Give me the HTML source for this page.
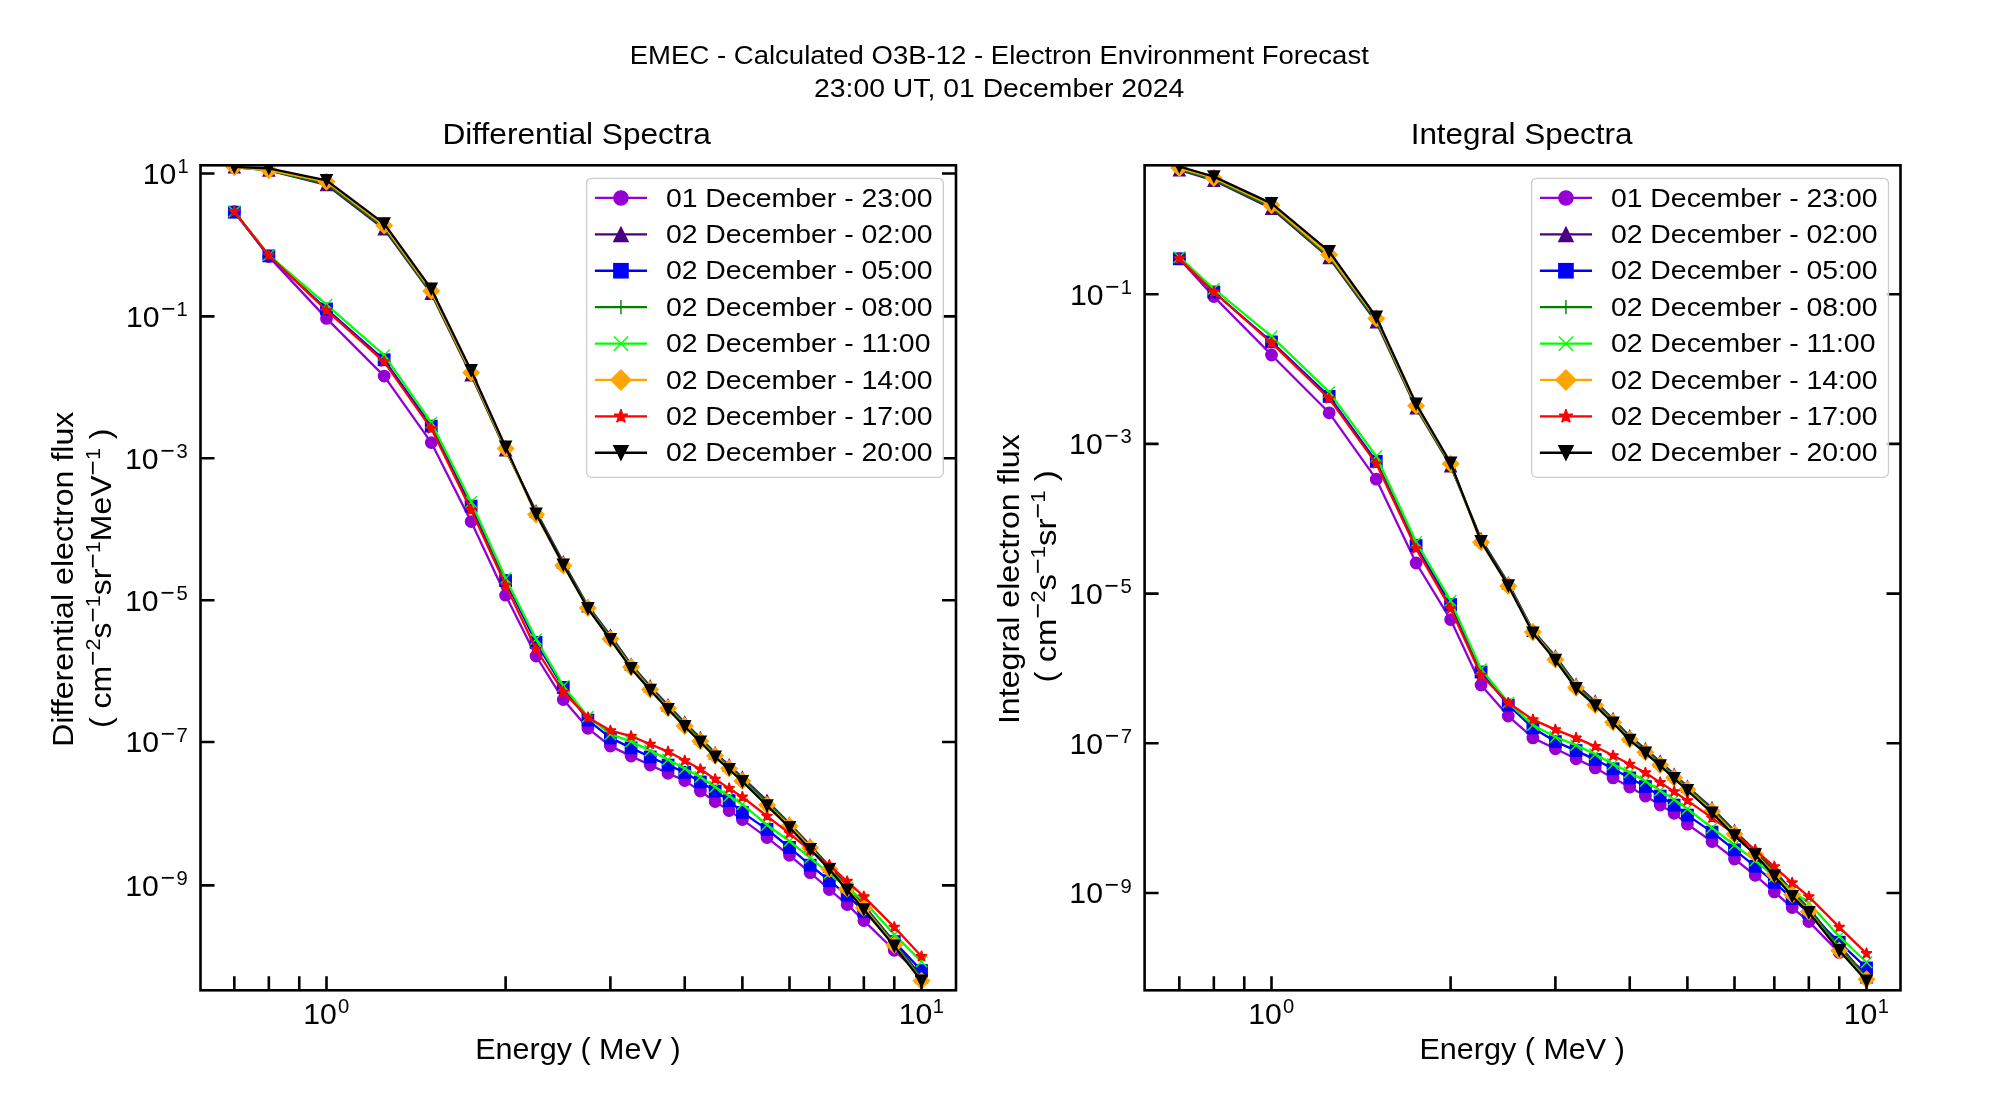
<!DOCTYPE html><html><head><meta charset="utf-8"><style>html,body{margin:0;padding:0;background:#fff;}svg{display:block;will-change:transform;}text{font-family:"Liberation Sans",sans-serif;fill:#000;}</style></head><body>
<svg width="2000" height="1100" viewBox="0 0 2000 1100">
<rect width="2000" height="1100" fill="#fff"/>
<text transform="translate(629.74 64.40) scale(1.0432 1)" font-size="26.40"  xml:space="preserve">EMEC - Calculated O3B-12 - Electron Environment Forecast</text>
<text transform="translate(814.07 97.00) scale(1.0743 1)" font-size="26.40"  xml:space="preserve">23:00 UT, 01 December 2024</text>
<defs><clipPath id="clip0"><rect x="200.5" y="165.3" width="755.5" height="825.0"/></clipPath></defs>
<g clip-path="url(#clip0)">
<path d="M234.33 211.60L268.84 256.60L326.50 318.40L384.16 376.10L431.27 442.60L471.11 521.60L505.61 595.20L536.05 656.00L563.27 699.60L587.90 728.30L610.39 746.10L631.07 756.10L650.22 765.10L668.05 773.30L684.73 780.60L700.39 791.10L715.16 801.60L729.13 810.60L742.39 819.60L767.02 837.60L789.50 855.30L810.18 872.70L829.33 889.50L847.16 904.50L863.84 920.60L894.27 950.30L921.50 975.60" fill="none" stroke="#9400d3" stroke-width="2.3" stroke-linejoin="round" stroke-linecap="square"/>
<circle cx="234.33" cy="211.60" r="5.70" fill="#9400d3" stroke="#9400d3" stroke-width="1.39"/>
<circle cx="268.84" cy="256.60" r="5.70" fill="#9400d3" stroke="#9400d3" stroke-width="1.39"/>
<circle cx="326.50" cy="318.40" r="5.70" fill="#9400d3" stroke="#9400d3" stroke-width="1.39"/>
<circle cx="384.16" cy="376.10" r="5.70" fill="#9400d3" stroke="#9400d3" stroke-width="1.39"/>
<circle cx="431.27" cy="442.60" r="5.70" fill="#9400d3" stroke="#9400d3" stroke-width="1.39"/>
<circle cx="471.11" cy="521.60" r="5.70" fill="#9400d3" stroke="#9400d3" stroke-width="1.39"/>
<circle cx="505.61" cy="595.20" r="5.70" fill="#9400d3" stroke="#9400d3" stroke-width="1.39"/>
<circle cx="536.05" cy="656.00" r="5.70" fill="#9400d3" stroke="#9400d3" stroke-width="1.39"/>
<circle cx="563.27" cy="699.60" r="5.70" fill="#9400d3" stroke="#9400d3" stroke-width="1.39"/>
<circle cx="587.90" cy="728.30" r="5.70" fill="#9400d3" stroke="#9400d3" stroke-width="1.39"/>
<circle cx="610.39" cy="746.10" r="5.70" fill="#9400d3" stroke="#9400d3" stroke-width="1.39"/>
<circle cx="631.07" cy="756.10" r="5.70" fill="#9400d3" stroke="#9400d3" stroke-width="1.39"/>
<circle cx="650.22" cy="765.10" r="5.70" fill="#9400d3" stroke="#9400d3" stroke-width="1.39"/>
<circle cx="668.05" cy="773.30" r="5.70" fill="#9400d3" stroke="#9400d3" stroke-width="1.39"/>
<circle cx="684.73" cy="780.60" r="5.70" fill="#9400d3" stroke="#9400d3" stroke-width="1.39"/>
<circle cx="700.39" cy="791.10" r="5.70" fill="#9400d3" stroke="#9400d3" stroke-width="1.39"/>
<circle cx="715.16" cy="801.60" r="5.70" fill="#9400d3" stroke="#9400d3" stroke-width="1.39"/>
<circle cx="729.13" cy="810.60" r="5.70" fill="#9400d3" stroke="#9400d3" stroke-width="1.39"/>
<circle cx="742.39" cy="819.60" r="5.70" fill="#9400d3" stroke="#9400d3" stroke-width="1.39"/>
<circle cx="767.02" cy="837.60" r="5.70" fill="#9400d3" stroke="#9400d3" stroke-width="1.39"/>
<circle cx="789.50" cy="855.30" r="5.70" fill="#9400d3" stroke="#9400d3" stroke-width="1.39"/>
<circle cx="810.18" cy="872.70" r="5.70" fill="#9400d3" stroke="#9400d3" stroke-width="1.39"/>
<circle cx="829.33" cy="889.50" r="5.70" fill="#9400d3" stroke="#9400d3" stroke-width="1.39"/>
<circle cx="847.16" cy="904.50" r="5.70" fill="#9400d3" stroke="#9400d3" stroke-width="1.39"/>
<circle cx="863.84" cy="920.60" r="5.70" fill="#9400d3" stroke="#9400d3" stroke-width="1.39"/>
<circle cx="894.27" cy="950.30" r="5.70" fill="#9400d3" stroke="#9400d3" stroke-width="1.39"/>
<circle cx="921.50" cy="975.60" r="5.70" fill="#9400d3" stroke="#9400d3" stroke-width="1.39"/>
<path d="M234.33 167.20L268.84 170.30L326.50 184.80L384.16 229.00L431.27 293.50L471.11 375.00L505.61 450.00L536.05 511.30L563.27 562.30L587.90 606.00L610.39 635.50L631.07 664.40L650.22 686.20L668.05 705.30L684.73 722.50L700.39 738.00L715.16 753.00L729.13 765.30L742.39 777.50L767.02 800.70L789.50 823.50L810.18 845.30L829.33 866.30L847.16 886.10L863.84 905.60L894.27 942.00L921.50 977.00" fill="none" stroke="#4b0082" stroke-width="2.3" stroke-linejoin="round" stroke-linecap="square"/>
<path d="M234.33 161.50L228.63 172.90L240.03 172.90Z" fill="#4b0082" stroke="#4b0082" stroke-width="1.39" stroke-linejoin="miter"/>
<path d="M268.84 164.60L263.14 176.00L274.54 176.00Z" fill="#4b0082" stroke="#4b0082" stroke-width="1.39" stroke-linejoin="miter"/>
<path d="M326.50 179.10L320.80 190.50L332.20 190.50Z" fill="#4b0082" stroke="#4b0082" stroke-width="1.39" stroke-linejoin="miter"/>
<path d="M384.16 223.30L378.46 234.70L389.86 234.70Z" fill="#4b0082" stroke="#4b0082" stroke-width="1.39" stroke-linejoin="miter"/>
<path d="M431.27 287.80L425.57 299.20L436.97 299.20Z" fill="#4b0082" stroke="#4b0082" stroke-width="1.39" stroke-linejoin="miter"/>
<path d="M471.11 369.30L465.41 380.70L476.81 380.70Z" fill="#4b0082" stroke="#4b0082" stroke-width="1.39" stroke-linejoin="miter"/>
<path d="M505.61 444.30L499.91 455.70L511.31 455.70Z" fill="#4b0082" stroke="#4b0082" stroke-width="1.39" stroke-linejoin="miter"/>
<path d="M536.05 505.60L530.35 517.00L541.75 517.00Z" fill="#4b0082" stroke="#4b0082" stroke-width="1.39" stroke-linejoin="miter"/>
<path d="M563.27 556.60L557.57 568.00L568.97 568.00Z" fill="#4b0082" stroke="#4b0082" stroke-width="1.39" stroke-linejoin="miter"/>
<path d="M587.90 600.30L582.20 611.70L593.60 611.70Z" fill="#4b0082" stroke="#4b0082" stroke-width="1.39" stroke-linejoin="miter"/>
<path d="M610.39 629.80L604.69 641.20L616.09 641.20Z" fill="#4b0082" stroke="#4b0082" stroke-width="1.39" stroke-linejoin="miter"/>
<path d="M631.07 658.70L625.37 670.10L636.77 670.10Z" fill="#4b0082" stroke="#4b0082" stroke-width="1.39" stroke-linejoin="miter"/>
<path d="M650.22 680.50L644.52 691.90L655.92 691.90Z" fill="#4b0082" stroke="#4b0082" stroke-width="1.39" stroke-linejoin="miter"/>
<path d="M668.05 699.60L662.35 711.00L673.75 711.00Z" fill="#4b0082" stroke="#4b0082" stroke-width="1.39" stroke-linejoin="miter"/>
<path d="M684.73 716.80L679.03 728.20L690.43 728.20Z" fill="#4b0082" stroke="#4b0082" stroke-width="1.39" stroke-linejoin="miter"/>
<path d="M700.39 732.30L694.69 743.70L706.09 743.70Z" fill="#4b0082" stroke="#4b0082" stroke-width="1.39" stroke-linejoin="miter"/>
<path d="M715.16 747.30L709.46 758.70L720.86 758.70Z" fill="#4b0082" stroke="#4b0082" stroke-width="1.39" stroke-linejoin="miter"/>
<path d="M729.13 759.60L723.43 771.00L734.83 771.00Z" fill="#4b0082" stroke="#4b0082" stroke-width="1.39" stroke-linejoin="miter"/>
<path d="M742.39 771.80L736.69 783.20L748.09 783.20Z" fill="#4b0082" stroke="#4b0082" stroke-width="1.39" stroke-linejoin="miter"/>
<path d="M767.02 795.00L761.32 806.40L772.72 806.40Z" fill="#4b0082" stroke="#4b0082" stroke-width="1.39" stroke-linejoin="miter"/>
<path d="M789.50 817.80L783.80 829.20L795.20 829.20Z" fill="#4b0082" stroke="#4b0082" stroke-width="1.39" stroke-linejoin="miter"/>
<path d="M810.18 839.60L804.48 851.00L815.88 851.00Z" fill="#4b0082" stroke="#4b0082" stroke-width="1.39" stroke-linejoin="miter"/>
<path d="M829.33 860.60L823.63 872.00L835.03 872.00Z" fill="#4b0082" stroke="#4b0082" stroke-width="1.39" stroke-linejoin="miter"/>
<path d="M847.16 880.40L841.46 891.80L852.86 891.80Z" fill="#4b0082" stroke="#4b0082" stroke-width="1.39" stroke-linejoin="miter"/>
<path d="M863.84 899.90L858.14 911.30L869.54 911.30Z" fill="#4b0082" stroke="#4b0082" stroke-width="1.39" stroke-linejoin="miter"/>
<path d="M894.27 936.30L888.57 947.70L899.97 947.70Z" fill="#4b0082" stroke="#4b0082" stroke-width="1.39" stroke-linejoin="miter"/>
<path d="M921.50 971.30L915.80 982.70L927.20 982.70Z" fill="#4b0082" stroke="#4b0082" stroke-width="1.39" stroke-linejoin="miter"/>
<path d="M234.33 212.20L268.84 255.90L326.50 309.00L384.16 359.80L431.27 426.10L471.11 506.10L505.61 580.60L536.05 642.40L563.27 687.40L587.90 720.10L610.39 737.90L631.07 747.90L650.22 757.00L668.05 765.10L684.73 772.40L700.39 782.00L715.16 791.10L729.13 800.60L742.39 812.40L767.02 829.40L789.50 847.50L810.18 865.20L829.33 880.70L847.16 895.10L863.84 911.30L894.27 941.60L921.50 970.60" fill="none" stroke="#0000ff" stroke-width="2.3" stroke-linejoin="round" stroke-linecap="square"/>
<rect x="228.63" y="206.50" width="11.40" height="11.40" fill="#0000ff" stroke="#0000ff" stroke-width="1.39" stroke-linejoin="miter"/>
<rect x="263.14" y="250.20" width="11.40" height="11.40" fill="#0000ff" stroke="#0000ff" stroke-width="1.39" stroke-linejoin="miter"/>
<rect x="320.80" y="303.30" width="11.40" height="11.40" fill="#0000ff" stroke="#0000ff" stroke-width="1.39" stroke-linejoin="miter"/>
<rect x="378.46" y="354.10" width="11.40" height="11.40" fill="#0000ff" stroke="#0000ff" stroke-width="1.39" stroke-linejoin="miter"/>
<rect x="425.57" y="420.40" width="11.40" height="11.40" fill="#0000ff" stroke="#0000ff" stroke-width="1.39" stroke-linejoin="miter"/>
<rect x="465.41" y="500.40" width="11.40" height="11.40" fill="#0000ff" stroke="#0000ff" stroke-width="1.39" stroke-linejoin="miter"/>
<rect x="499.91" y="574.90" width="11.40" height="11.40" fill="#0000ff" stroke="#0000ff" stroke-width="1.39" stroke-linejoin="miter"/>
<rect x="530.35" y="636.70" width="11.40" height="11.40" fill="#0000ff" stroke="#0000ff" stroke-width="1.39" stroke-linejoin="miter"/>
<rect x="557.57" y="681.70" width="11.40" height="11.40" fill="#0000ff" stroke="#0000ff" stroke-width="1.39" stroke-linejoin="miter"/>
<rect x="582.20" y="714.40" width="11.40" height="11.40" fill="#0000ff" stroke="#0000ff" stroke-width="1.39" stroke-linejoin="miter"/>
<rect x="604.69" y="732.20" width="11.40" height="11.40" fill="#0000ff" stroke="#0000ff" stroke-width="1.39" stroke-linejoin="miter"/>
<rect x="625.37" y="742.20" width="11.40" height="11.40" fill="#0000ff" stroke="#0000ff" stroke-width="1.39" stroke-linejoin="miter"/>
<rect x="644.52" y="751.30" width="11.40" height="11.40" fill="#0000ff" stroke="#0000ff" stroke-width="1.39" stroke-linejoin="miter"/>
<rect x="662.35" y="759.40" width="11.40" height="11.40" fill="#0000ff" stroke="#0000ff" stroke-width="1.39" stroke-linejoin="miter"/>
<rect x="679.03" y="766.70" width="11.40" height="11.40" fill="#0000ff" stroke="#0000ff" stroke-width="1.39" stroke-linejoin="miter"/>
<rect x="694.69" y="776.30" width="11.40" height="11.40" fill="#0000ff" stroke="#0000ff" stroke-width="1.39" stroke-linejoin="miter"/>
<rect x="709.46" y="785.40" width="11.40" height="11.40" fill="#0000ff" stroke="#0000ff" stroke-width="1.39" stroke-linejoin="miter"/>
<rect x="723.43" y="794.90" width="11.40" height="11.40" fill="#0000ff" stroke="#0000ff" stroke-width="1.39" stroke-linejoin="miter"/>
<rect x="736.69" y="806.70" width="11.40" height="11.40" fill="#0000ff" stroke="#0000ff" stroke-width="1.39" stroke-linejoin="miter"/>
<rect x="761.32" y="823.70" width="11.40" height="11.40" fill="#0000ff" stroke="#0000ff" stroke-width="1.39" stroke-linejoin="miter"/>
<rect x="783.80" y="841.80" width="11.40" height="11.40" fill="#0000ff" stroke="#0000ff" stroke-width="1.39" stroke-linejoin="miter"/>
<rect x="804.48" y="859.50" width="11.40" height="11.40" fill="#0000ff" stroke="#0000ff" stroke-width="1.39" stroke-linejoin="miter"/>
<rect x="823.63" y="875.00" width="11.40" height="11.40" fill="#0000ff" stroke="#0000ff" stroke-width="1.39" stroke-linejoin="miter"/>
<rect x="841.46" y="889.40" width="11.40" height="11.40" fill="#0000ff" stroke="#0000ff" stroke-width="1.39" stroke-linejoin="miter"/>
<rect x="858.14" y="905.60" width="11.40" height="11.40" fill="#0000ff" stroke="#0000ff" stroke-width="1.39" stroke-linejoin="miter"/>
<rect x="888.57" y="935.90" width="11.40" height="11.40" fill="#0000ff" stroke="#0000ff" stroke-width="1.39" stroke-linejoin="miter"/>
<rect x="915.80" y="964.90" width="11.40" height="11.40" fill="#0000ff" stroke="#0000ff" stroke-width="1.39" stroke-linejoin="miter"/>
<path d="M234.33 167.16L268.84 170.26L326.50 183.56L384.16 227.60L431.27 292.46L471.11 374.08L505.61 449.40L536.05 512.58L563.27 563.58L587.90 606.80L610.39 636.90L631.07 665.48L650.22 687.52L668.05 706.46L684.73 723.86L700.39 739.32L715.16 754.08L729.13 766.58L742.39 778.90L767.02 802.42L789.50 824.46L810.18 846.26L829.33 867.38L847.16 887.18L863.84 906.52L894.27 943.20L921.50 978.48" fill="none" stroke="#008000" stroke-width="2.3" stroke-linejoin="round" stroke-linecap="square"/>
<path d="M228.63 167.16H240.03M234.33 161.46V172.86" stroke="#008000" stroke-width="1.39" fill="none"/>
<path d="M263.14 170.26H274.54M268.84 164.56V175.96" stroke="#008000" stroke-width="1.39" fill="none"/>
<path d="M320.80 183.56H332.20M326.50 177.86V189.26" stroke="#008000" stroke-width="1.39" fill="none"/>
<path d="M378.46 227.60H389.86M384.16 221.90V233.30" stroke="#008000" stroke-width="1.39" fill="none"/>
<path d="M425.57 292.46H436.97M431.27 286.76V298.16" stroke="#008000" stroke-width="1.39" fill="none"/>
<path d="M465.41 374.08H476.81M471.11 368.38V379.78" stroke="#008000" stroke-width="1.39" fill="none"/>
<path d="M499.91 449.40H511.31M505.61 443.70V455.10" stroke="#008000" stroke-width="1.39" fill="none"/>
<path d="M530.35 512.58H541.75M536.05 506.88V518.28" stroke="#008000" stroke-width="1.39" fill="none"/>
<path d="M557.57 563.58H568.97M563.27 557.88V569.28" stroke="#008000" stroke-width="1.39" fill="none"/>
<path d="M582.20 606.80H593.60M587.90 601.10V612.50" stroke="#008000" stroke-width="1.39" fill="none"/>
<path d="M604.69 636.90H616.09M610.39 631.20V642.60" stroke="#008000" stroke-width="1.39" fill="none"/>
<path d="M625.37 665.48H636.77M631.07 659.78V671.18" stroke="#008000" stroke-width="1.39" fill="none"/>
<path d="M644.52 687.52H655.92M650.22 681.82V693.22" stroke="#008000" stroke-width="1.39" fill="none"/>
<path d="M662.35 706.46H673.75M668.05 700.76V712.16" stroke="#008000" stroke-width="1.39" fill="none"/>
<path d="M679.03 723.86H690.43M684.73 718.16V729.56" stroke="#008000" stroke-width="1.39" fill="none"/>
<path d="M694.69 739.32H706.09M700.39 733.62V745.02" stroke="#008000" stroke-width="1.39" fill="none"/>
<path d="M709.46 754.08H720.86M715.16 748.38V759.78" stroke="#008000" stroke-width="1.39" fill="none"/>
<path d="M723.43 766.58H734.83M729.13 760.88V772.28" stroke="#008000" stroke-width="1.39" fill="none"/>
<path d="M736.69 778.90H748.09M742.39 773.20V784.60" stroke="#008000" stroke-width="1.39" fill="none"/>
<path d="M761.32 802.42H772.72M767.02 796.72V808.12" stroke="#008000" stroke-width="1.39" fill="none"/>
<path d="M783.80 824.46H795.20M789.50 818.76V830.16" stroke="#008000" stroke-width="1.39" fill="none"/>
<path d="M804.48 846.26H815.88M810.18 840.56V851.96" stroke="#008000" stroke-width="1.39" fill="none"/>
<path d="M823.63 867.38H835.03M829.33 861.68V873.08" stroke="#008000" stroke-width="1.39" fill="none"/>
<path d="M841.46 887.18H852.86M847.16 881.48V892.88" stroke="#008000" stroke-width="1.39" fill="none"/>
<path d="M858.14 906.52H869.54M863.84 900.82V912.22" stroke="#008000" stroke-width="1.39" fill="none"/>
<path d="M888.57 943.20H899.97M894.27 937.50V948.90" stroke="#008000" stroke-width="1.39" fill="none"/>
<path d="M915.80 978.48H927.20M921.50 972.78V984.18" stroke="#008000" stroke-width="1.39" fill="none"/>
<path d="M234.33 211.60L268.84 255.10L326.50 304.60L384.16 355.10L431.27 422.60L471.11 502.00L505.61 578.30L536.05 639.10L563.27 686.00L587.90 716.60L610.39 734.20L631.07 741.60L650.22 750.60L668.05 759.60L684.73 768.60L700.39 777.00L715.16 787.00L729.13 796.10L742.39 804.20L767.02 825.00L789.50 841.10L810.18 857.90L829.33 873.60L847.16 887.60L863.84 901.00L894.27 934.60L921.50 961.60" fill="none" stroke="#00ff00" stroke-width="2.3" stroke-linejoin="round" stroke-linecap="square"/>
<path d="M228.63 205.90L240.03 217.30M228.63 217.30L240.03 205.90" stroke="#00ff00" stroke-width="1.39" fill="none"/>
<path d="M263.14 249.40L274.54 260.80M263.14 260.80L274.54 249.40" stroke="#00ff00" stroke-width="1.39" fill="none"/>
<path d="M320.80 298.90L332.20 310.30M320.80 310.30L332.20 298.90" stroke="#00ff00" stroke-width="1.39" fill="none"/>
<path d="M378.46 349.40L389.86 360.80M378.46 360.80L389.86 349.40" stroke="#00ff00" stroke-width="1.39" fill="none"/>
<path d="M425.57 416.90L436.97 428.30M425.57 428.30L436.97 416.90" stroke="#00ff00" stroke-width="1.39" fill="none"/>
<path d="M465.41 496.30L476.81 507.70M465.41 507.70L476.81 496.30" stroke="#00ff00" stroke-width="1.39" fill="none"/>
<path d="M499.91 572.60L511.31 584.00M499.91 584.00L511.31 572.60" stroke="#00ff00" stroke-width="1.39" fill="none"/>
<path d="M530.35 633.40L541.75 644.80M530.35 644.80L541.75 633.40" stroke="#00ff00" stroke-width="1.39" fill="none"/>
<path d="M557.57 680.30L568.97 691.70M557.57 691.70L568.97 680.30" stroke="#00ff00" stroke-width="1.39" fill="none"/>
<path d="M582.20 710.90L593.60 722.30M582.20 722.30L593.60 710.90" stroke="#00ff00" stroke-width="1.39" fill="none"/>
<path d="M604.69 728.50L616.09 739.90M604.69 739.90L616.09 728.50" stroke="#00ff00" stroke-width="1.39" fill="none"/>
<path d="M625.37 735.90L636.77 747.30M625.37 747.30L636.77 735.90" stroke="#00ff00" stroke-width="1.39" fill="none"/>
<path d="M644.52 744.90L655.92 756.30M644.52 756.30L655.92 744.90" stroke="#00ff00" stroke-width="1.39" fill="none"/>
<path d="M662.35 753.90L673.75 765.30M662.35 765.30L673.75 753.90" stroke="#00ff00" stroke-width="1.39" fill="none"/>
<path d="M679.03 762.90L690.43 774.30M679.03 774.30L690.43 762.90" stroke="#00ff00" stroke-width="1.39" fill="none"/>
<path d="M694.69 771.30L706.09 782.70M694.69 782.70L706.09 771.30" stroke="#00ff00" stroke-width="1.39" fill="none"/>
<path d="M709.46 781.30L720.86 792.70M709.46 792.70L720.86 781.30" stroke="#00ff00" stroke-width="1.39" fill="none"/>
<path d="M723.43 790.40L734.83 801.80M723.43 801.80L734.83 790.40" stroke="#00ff00" stroke-width="1.39" fill="none"/>
<path d="M736.69 798.50L748.09 809.90M736.69 809.90L748.09 798.50" stroke="#00ff00" stroke-width="1.39" fill="none"/>
<path d="M761.32 819.30L772.72 830.70M761.32 830.70L772.72 819.30" stroke="#00ff00" stroke-width="1.39" fill="none"/>
<path d="M783.80 835.40L795.20 846.80M783.80 846.80L795.20 835.40" stroke="#00ff00" stroke-width="1.39" fill="none"/>
<path d="M804.48 852.20L815.88 863.60M804.48 863.60L815.88 852.20" stroke="#00ff00" stroke-width="1.39" fill="none"/>
<path d="M823.63 867.90L835.03 879.30M823.63 879.30L835.03 867.90" stroke="#00ff00" stroke-width="1.39" fill="none"/>
<path d="M841.46 881.90L852.86 893.30M841.46 893.30L852.86 881.90" stroke="#00ff00" stroke-width="1.39" fill="none"/>
<path d="M858.14 895.30L869.54 906.70M858.14 906.70L869.54 895.30" stroke="#00ff00" stroke-width="1.39" fill="none"/>
<path d="M888.57 928.90L899.97 940.30M888.57 940.30L899.97 928.90" stroke="#00ff00" stroke-width="1.39" fill="none"/>
<path d="M915.80 955.90L927.20 967.30M915.80 967.30L927.20 955.90" stroke="#00ff00" stroke-width="1.39" fill="none"/>
<path d="M234.33 167.10L268.84 170.20L326.50 181.70L384.16 225.50L431.27 290.90L471.11 372.70L505.61 448.50L536.05 514.50L563.27 565.50L587.90 608.00L610.39 639.00L631.07 667.10L650.22 689.50L668.05 708.20L684.73 725.90L700.39 741.30L715.16 755.70L729.13 768.50L742.39 781.00L767.02 805.00L789.50 825.90L810.18 847.70L829.33 869.00L847.16 888.80L863.84 907.90L894.27 945.00L921.50 980.70" fill="none" stroke="#ffa500" stroke-width="2.3" stroke-linejoin="round" stroke-linecap="square"/>
<path d="M234.33 159.04L242.39 167.10L234.33 175.16L226.27 167.10Z" fill="#ffa500" stroke="#ffa500" stroke-width="1.39" stroke-linejoin="miter"/>
<path d="M268.84 162.14L276.90 170.20L268.84 178.26L260.78 170.20Z" fill="#ffa500" stroke="#ffa500" stroke-width="1.39" stroke-linejoin="miter"/>
<path d="M326.50 173.64L334.56 181.70L326.50 189.76L318.44 181.70Z" fill="#ffa500" stroke="#ffa500" stroke-width="1.39" stroke-linejoin="miter"/>
<path d="M384.16 217.44L392.22 225.50L384.16 233.56L376.10 225.50Z" fill="#ffa500" stroke="#ffa500" stroke-width="1.39" stroke-linejoin="miter"/>
<path d="M431.27 282.84L439.34 290.90L431.27 298.96L423.21 290.90Z" fill="#ffa500" stroke="#ffa500" stroke-width="1.39" stroke-linejoin="miter"/>
<path d="M471.11 364.64L479.17 372.70L471.11 380.76L463.05 372.70Z" fill="#ffa500" stroke="#ffa500" stroke-width="1.39" stroke-linejoin="miter"/>
<path d="M505.61 440.44L513.67 448.50L505.61 456.56L497.55 448.50Z" fill="#ffa500" stroke="#ffa500" stroke-width="1.39" stroke-linejoin="miter"/>
<path d="M536.05 506.44L544.11 514.50L536.05 522.56L527.99 514.50Z" fill="#ffa500" stroke="#ffa500" stroke-width="1.39" stroke-linejoin="miter"/>
<path d="M563.27 557.44L571.34 565.50L563.27 573.56L555.21 565.50Z" fill="#ffa500" stroke="#ffa500" stroke-width="1.39" stroke-linejoin="miter"/>
<path d="M587.90 599.94L595.96 608.00L587.90 616.06L579.84 608.00Z" fill="#ffa500" stroke="#ffa500" stroke-width="1.39" stroke-linejoin="miter"/>
<path d="M610.39 630.94L618.45 639.00L610.39 647.06L602.33 639.00Z" fill="#ffa500" stroke="#ffa500" stroke-width="1.39" stroke-linejoin="miter"/>
<path d="M631.07 659.04L639.13 667.10L631.07 675.16L623.01 667.10Z" fill="#ffa500" stroke="#ffa500" stroke-width="1.39" stroke-linejoin="miter"/>
<path d="M650.22 681.44L658.28 689.50L650.22 697.56L642.16 689.50Z" fill="#ffa500" stroke="#ffa500" stroke-width="1.39" stroke-linejoin="miter"/>
<path d="M668.05 700.14L676.11 708.20L668.05 716.26L659.99 708.20Z" fill="#ffa500" stroke="#ffa500" stroke-width="1.39" stroke-linejoin="miter"/>
<path d="M684.73 717.84L692.79 725.90L684.73 733.96L676.66 725.90Z" fill="#ffa500" stroke="#ffa500" stroke-width="1.39" stroke-linejoin="miter"/>
<path d="M700.39 733.24L708.45 741.30L700.39 749.36L692.33 741.30Z" fill="#ffa500" stroke="#ffa500" stroke-width="1.39" stroke-linejoin="miter"/>
<path d="M715.16 747.64L723.22 755.70L715.16 763.76L707.10 755.70Z" fill="#ffa500" stroke="#ffa500" stroke-width="1.39" stroke-linejoin="miter"/>
<path d="M729.13 760.44L737.19 768.50L729.13 776.56L721.07 768.50Z" fill="#ffa500" stroke="#ffa500" stroke-width="1.39" stroke-linejoin="miter"/>
<path d="M742.39 772.94L750.45 781.00L742.39 789.06L734.33 781.00Z" fill="#ffa500" stroke="#ffa500" stroke-width="1.39" stroke-linejoin="miter"/>
<path d="M767.02 796.94L775.08 805.00L767.02 813.06L758.95 805.00Z" fill="#ffa500" stroke="#ffa500" stroke-width="1.39" stroke-linejoin="miter"/>
<path d="M789.50 817.84L797.56 825.90L789.50 833.96L781.44 825.90Z" fill="#ffa500" stroke="#ffa500" stroke-width="1.39" stroke-linejoin="miter"/>
<path d="M810.18 839.64L818.24 847.70L810.18 855.76L802.12 847.70Z" fill="#ffa500" stroke="#ffa500" stroke-width="1.39" stroke-linejoin="miter"/>
<path d="M829.33 860.94L837.39 869.00L829.33 877.06L821.27 869.00Z" fill="#ffa500" stroke="#ffa500" stroke-width="1.39" stroke-linejoin="miter"/>
<path d="M847.16 880.74L855.22 888.80L847.16 896.86L839.10 888.80Z" fill="#ffa500" stroke="#ffa500" stroke-width="1.39" stroke-linejoin="miter"/>
<path d="M863.84 899.84L871.90 907.90L863.84 915.96L855.78 907.90Z" fill="#ffa500" stroke="#ffa500" stroke-width="1.39" stroke-linejoin="miter"/>
<path d="M894.27 936.94L902.34 945.00L894.27 953.06L886.21 945.00Z" fill="#ffa500" stroke="#ffa500" stroke-width="1.39" stroke-linejoin="miter"/>
<path d="M921.50 972.64L929.56 980.70L921.50 988.76L913.44 980.70Z" fill="#ffa500" stroke="#ffa500" stroke-width="1.39" stroke-linejoin="miter"/>
<path d="M234.33 211.60L268.84 255.40L326.50 310.40L384.16 361.80L431.27 428.60L471.11 510.10L505.61 585.10L536.05 649.20L563.27 692.00L587.90 717.40L610.39 730.60L631.07 736.10L650.22 744.20L668.05 751.60L684.73 760.60L700.39 769.20L715.16 779.10L729.13 788.40L742.39 797.00L767.02 816.10L789.50 833.30L810.18 850.60L829.33 865.10L847.16 881.30L863.84 896.60L894.27 927.10L921.50 956.40" fill="none" stroke="#ff0000" stroke-width="2.3" stroke-linejoin="round" stroke-linecap="square"/>
<path d="M234.33 205.90L233.05 209.84L228.91 209.84L232.26 212.27L230.98 216.21L234.33 213.78L237.68 216.21L236.40 212.27L239.75 209.84L235.61 209.84Z" fill="#ff0000" stroke="#ff0000" stroke-width="1.39" stroke-linejoin="bevel"/>
<path d="M268.84 249.70L267.56 253.64L263.42 253.64L266.77 256.07L265.49 260.01L268.84 257.58L272.19 260.01L270.91 256.07L274.26 253.64L270.12 253.64Z" fill="#ff0000" stroke="#ff0000" stroke-width="1.39" stroke-linejoin="bevel"/>
<path d="M326.50 304.70L325.22 308.64L321.08 308.64L324.43 311.07L323.15 315.01L326.50 312.58L329.85 315.01L328.57 311.07L331.92 308.64L327.78 308.64Z" fill="#ff0000" stroke="#ff0000" stroke-width="1.39" stroke-linejoin="bevel"/>
<path d="M384.16 356.10L382.88 360.04L378.74 360.04L382.09 362.47L380.81 366.41L384.16 363.98L387.51 366.41L386.23 362.47L389.58 360.04L385.44 360.04Z" fill="#ff0000" stroke="#ff0000" stroke-width="1.39" stroke-linejoin="bevel"/>
<path d="M431.27 422.90L429.99 426.84L425.85 426.84L429.20 429.27L427.92 433.21L431.27 430.78L434.62 433.21L433.34 429.27L436.70 426.84L432.55 426.84Z" fill="#ff0000" stroke="#ff0000" stroke-width="1.39" stroke-linejoin="bevel"/>
<path d="M471.11 504.40L469.83 508.34L465.69 508.34L469.04 510.77L467.76 514.71L471.11 512.28L474.46 514.71L473.18 510.77L476.53 508.34L472.39 508.34Z" fill="#ff0000" stroke="#ff0000" stroke-width="1.39" stroke-linejoin="bevel"/>
<path d="M505.61 579.40L504.33 583.34L500.19 583.34L503.54 585.77L502.26 589.71L505.61 587.28L508.96 589.71L507.68 585.77L511.03 583.34L506.89 583.34Z" fill="#ff0000" stroke="#ff0000" stroke-width="1.39" stroke-linejoin="bevel"/>
<path d="M536.05 643.50L534.77 647.44L530.63 647.44L533.98 649.87L532.70 653.81L536.05 651.38L539.40 653.81L538.12 649.87L541.47 647.44L537.33 647.44Z" fill="#ff0000" stroke="#ff0000" stroke-width="1.39" stroke-linejoin="bevel"/>
<path d="M563.27 686.30L561.99 690.24L557.85 690.24L561.20 692.67L559.92 696.61L563.27 694.18L566.62 696.61L565.34 692.67L568.70 690.24L564.55 690.24Z" fill="#ff0000" stroke="#ff0000" stroke-width="1.39" stroke-linejoin="bevel"/>
<path d="M587.90 711.70L586.62 715.64L582.48 715.64L585.83 718.07L584.55 722.01L587.90 719.58L591.25 722.01L589.97 718.07L593.32 715.64L589.18 715.64Z" fill="#ff0000" stroke="#ff0000" stroke-width="1.39" stroke-linejoin="bevel"/>
<path d="M610.39 724.90L609.11 728.84L604.97 728.84L608.32 731.27L607.04 735.21L610.39 732.78L613.74 735.21L612.46 731.27L615.81 728.84L611.67 728.84Z" fill="#ff0000" stroke="#ff0000" stroke-width="1.39" stroke-linejoin="bevel"/>
<path d="M631.07 730.40L629.79 734.34L625.65 734.34L629.00 736.77L627.72 740.71L631.07 738.28L634.42 740.71L633.14 736.77L636.49 734.34L632.35 734.34Z" fill="#ff0000" stroke="#ff0000" stroke-width="1.39" stroke-linejoin="bevel"/>
<path d="M650.22 738.50L648.94 742.44L644.80 742.44L648.15 744.87L646.87 748.81L650.22 746.38L653.57 748.81L652.29 744.87L655.64 742.44L651.50 742.44Z" fill="#ff0000" stroke="#ff0000" stroke-width="1.39" stroke-linejoin="bevel"/>
<path d="M668.05 745.90L666.77 749.84L662.63 749.84L665.98 752.27L664.70 756.21L668.05 753.78L671.40 756.21L670.12 752.27L673.47 749.84L669.33 749.84Z" fill="#ff0000" stroke="#ff0000" stroke-width="1.39" stroke-linejoin="bevel"/>
<path d="M684.73 754.90L683.45 758.84L679.30 758.84L682.66 761.27L681.38 765.21L684.73 762.78L688.08 765.21L686.80 761.27L690.15 758.84L686.01 758.84Z" fill="#ff0000" stroke="#ff0000" stroke-width="1.39" stroke-linejoin="bevel"/>
<path d="M700.39 763.50L699.11 767.44L694.97 767.44L698.32 769.87L697.04 773.81L700.39 771.38L703.74 773.81L702.46 769.87L705.81 767.44L701.67 767.44Z" fill="#ff0000" stroke="#ff0000" stroke-width="1.39" stroke-linejoin="bevel"/>
<path d="M715.16 773.40L713.88 777.34L709.74 777.34L713.09 779.77L711.81 783.71L715.16 781.28L718.51 783.71L717.23 779.77L720.58 777.34L716.44 777.34Z" fill="#ff0000" stroke="#ff0000" stroke-width="1.39" stroke-linejoin="bevel"/>
<path d="M729.13 782.70L727.85 786.64L723.71 786.64L727.06 789.07L725.78 793.01L729.13 790.58L732.48 793.01L731.20 789.07L734.55 786.64L730.41 786.64Z" fill="#ff0000" stroke="#ff0000" stroke-width="1.39" stroke-linejoin="bevel"/>
<path d="M742.39 791.30L741.11 795.24L736.97 795.24L740.32 797.67L739.04 801.61L742.39 799.18L745.74 801.61L744.46 797.67L747.81 795.24L743.67 795.24Z" fill="#ff0000" stroke="#ff0000" stroke-width="1.39" stroke-linejoin="bevel"/>
<path d="M767.02 810.40L765.74 814.34L761.59 814.34L764.95 816.77L763.67 820.71L767.02 818.28L770.37 820.71L769.09 816.77L772.44 814.34L768.30 814.34Z" fill="#ff0000" stroke="#ff0000" stroke-width="1.39" stroke-linejoin="bevel"/>
<path d="M789.50 827.60L788.22 831.54L784.08 831.54L787.43 833.97L786.15 837.91L789.50 835.48L792.85 837.91L791.57 833.97L794.92 831.54L790.78 831.54Z" fill="#ff0000" stroke="#ff0000" stroke-width="1.39" stroke-linejoin="bevel"/>
<path d="M810.18 844.90L808.90 848.84L804.76 848.84L808.11 851.27L806.83 855.21L810.18 852.78L813.53 855.21L812.25 851.27L815.60 848.84L811.46 848.84Z" fill="#ff0000" stroke="#ff0000" stroke-width="1.39" stroke-linejoin="bevel"/>
<path d="M829.33 859.40L828.05 863.34L823.91 863.34L827.26 865.77L825.98 869.71L829.33 867.28L832.68 869.71L831.40 865.77L834.75 863.34L830.61 863.34Z" fill="#ff0000" stroke="#ff0000" stroke-width="1.39" stroke-linejoin="bevel"/>
<path d="M847.16 875.60L845.88 879.54L841.74 879.54L845.09 881.97L843.81 885.91L847.16 883.48L850.51 885.91L849.23 881.97L852.58 879.54L848.44 879.54Z" fill="#ff0000" stroke="#ff0000" stroke-width="1.39" stroke-linejoin="bevel"/>
<path d="M863.84 890.90L862.56 894.84L858.42 894.84L861.77 897.27L860.49 901.21L863.84 898.78L867.19 901.21L865.91 897.27L869.26 894.84L865.12 894.84Z" fill="#ff0000" stroke="#ff0000" stroke-width="1.39" stroke-linejoin="bevel"/>
<path d="M894.27 921.40L892.99 925.34L888.85 925.34L892.20 927.77L890.92 931.71L894.27 929.28L897.62 931.71L896.34 927.77L899.70 925.34L895.55 925.34Z" fill="#ff0000" stroke="#ff0000" stroke-width="1.39" stroke-linejoin="bevel"/>
<path d="M921.50 950.70L920.22 954.64L916.08 954.64L919.43 957.07L918.15 961.01L921.50 958.58L924.85 961.01L923.57 957.07L926.92 954.64L922.78 954.64Z" fill="#ff0000" stroke="#ff0000" stroke-width="1.39" stroke-linejoin="bevel"/>
<path d="M234.33 167.00L268.84 168.30L326.50 180.30L384.16 223.60L431.27 288.80L471.11 370.50L505.61 447.00L536.05 513.80L563.27 564.80L587.90 608.50L610.39 639.50L631.07 668.40L650.22 690.20L668.05 709.30L684.73 726.50L700.39 742.00L715.16 757.00L729.13 769.30L742.39 781.50L767.02 805.60L789.50 827.50L810.18 849.30L829.33 869.30L847.16 890.10L863.84 909.60L894.27 946.00L921.50 981.00" fill="none" stroke="#000000" stroke-width="2.3" stroke-linejoin="round" stroke-linecap="square"/>
<path d="M234.33 172.70L228.63 161.30L240.03 161.30Z" fill="#000000" stroke="#000000" stroke-width="1.39" stroke-linejoin="miter"/>
<path d="M268.84 174.00L263.14 162.60L274.54 162.60Z" fill="#000000" stroke="#000000" stroke-width="1.39" stroke-linejoin="miter"/>
<path d="M326.50 186.00L320.80 174.60L332.20 174.60Z" fill="#000000" stroke="#000000" stroke-width="1.39" stroke-linejoin="miter"/>
<path d="M384.16 229.30L378.46 217.90L389.86 217.90Z" fill="#000000" stroke="#000000" stroke-width="1.39" stroke-linejoin="miter"/>
<path d="M431.27 294.50L425.57 283.10L436.97 283.10Z" fill="#000000" stroke="#000000" stroke-width="1.39" stroke-linejoin="miter"/>
<path d="M471.11 376.20L465.41 364.80L476.81 364.80Z" fill="#000000" stroke="#000000" stroke-width="1.39" stroke-linejoin="miter"/>
<path d="M505.61 452.70L499.91 441.30L511.31 441.30Z" fill="#000000" stroke="#000000" stroke-width="1.39" stroke-linejoin="miter"/>
<path d="M536.05 519.50L530.35 508.10L541.75 508.10Z" fill="#000000" stroke="#000000" stroke-width="1.39" stroke-linejoin="miter"/>
<path d="M563.27 570.50L557.57 559.10L568.97 559.10Z" fill="#000000" stroke="#000000" stroke-width="1.39" stroke-linejoin="miter"/>
<path d="M587.90 614.20L582.20 602.80L593.60 602.80Z" fill="#000000" stroke="#000000" stroke-width="1.39" stroke-linejoin="miter"/>
<path d="M610.39 645.20L604.69 633.80L616.09 633.80Z" fill="#000000" stroke="#000000" stroke-width="1.39" stroke-linejoin="miter"/>
<path d="M631.07 674.10L625.37 662.70L636.77 662.70Z" fill="#000000" stroke="#000000" stroke-width="1.39" stroke-linejoin="miter"/>
<path d="M650.22 695.90L644.52 684.50L655.92 684.50Z" fill="#000000" stroke="#000000" stroke-width="1.39" stroke-linejoin="miter"/>
<path d="M668.05 715.00L662.35 703.60L673.75 703.60Z" fill="#000000" stroke="#000000" stroke-width="1.39" stroke-linejoin="miter"/>
<path d="M684.73 732.20L679.03 720.80L690.43 720.80Z" fill="#000000" stroke="#000000" stroke-width="1.39" stroke-linejoin="miter"/>
<path d="M700.39 747.70L694.69 736.30L706.09 736.30Z" fill="#000000" stroke="#000000" stroke-width="1.39" stroke-linejoin="miter"/>
<path d="M715.16 762.70L709.46 751.30L720.86 751.30Z" fill="#000000" stroke="#000000" stroke-width="1.39" stroke-linejoin="miter"/>
<path d="M729.13 775.00L723.43 763.60L734.83 763.60Z" fill="#000000" stroke="#000000" stroke-width="1.39" stroke-linejoin="miter"/>
<path d="M742.39 787.20L736.69 775.80L748.09 775.80Z" fill="#000000" stroke="#000000" stroke-width="1.39" stroke-linejoin="miter"/>
<path d="M767.02 811.30L761.32 799.90L772.72 799.90Z" fill="#000000" stroke="#000000" stroke-width="1.39" stroke-linejoin="miter"/>
<path d="M789.50 833.20L783.80 821.80L795.20 821.80Z" fill="#000000" stroke="#000000" stroke-width="1.39" stroke-linejoin="miter"/>
<path d="M810.18 855.00L804.48 843.60L815.88 843.60Z" fill="#000000" stroke="#000000" stroke-width="1.39" stroke-linejoin="miter"/>
<path d="M829.33 875.00L823.63 863.60L835.03 863.60Z" fill="#000000" stroke="#000000" stroke-width="1.39" stroke-linejoin="miter"/>
<path d="M847.16 895.80L841.46 884.40L852.86 884.40Z" fill="#000000" stroke="#000000" stroke-width="1.39" stroke-linejoin="miter"/>
<path d="M863.84 915.30L858.14 903.90L869.54 903.90Z" fill="#000000" stroke="#000000" stroke-width="1.39" stroke-linejoin="miter"/>
<path d="M894.27 951.70L888.57 940.30L899.97 940.30Z" fill="#000000" stroke="#000000" stroke-width="1.39" stroke-linejoin="miter"/>
<path d="M921.50 986.70L915.80 975.30L927.20 975.30Z" fill="#000000" stroke="#000000" stroke-width="1.39" stroke-linejoin="miter"/>
</g>
<rect x="200.5" y="165.3" width="755.5" height="825.0" fill="none" stroke="#000" stroke-width="2.6" stroke-linejoin="miter"/>
<path d="M200.5 173.5H214.5M956.0 173.5H942.0M200.5 316.4H214.5M956.0 316.4H942.0M200.5 458.2H214.5M956.0 458.2H942.0M200.5 600.3H214.5M956.0 600.3H942.0M200.5 742.0H214.5M956.0 742.0H942.0M200.5 885.4H214.5M956.0 885.4H942.0M234.33 990.3V976.3M268.84 990.3V976.3M299.27 990.3V976.3M326.50 990.3V976.3M505.61 990.3V976.3M610.39 990.3V976.3M684.73 990.3V976.3M742.39 990.3V976.3M789.50 990.3V976.3M829.33 990.3V976.3M863.84 990.3V976.3M894.27 990.3V976.3M921.50 990.3V976.3" stroke="#000" stroke-width="2.6" fill="none"/>
<text x="177.55" y="173.00" font-size="20.2">1</text>
<text x="142.68" y="183.90" font-size="30.20"  xml:space="preserve">10</text>
<text x="176.55" y="315.90" font-size="20.2">1</text>
<text transform="translate(161.27 316.80) scale(1.223 1.25)" font-size="20.2">−</text>
<text x="125.88" y="326.80" font-size="30.20"  xml:space="preserve">10</text>
<text x="176.45" y="457.70" font-size="20.2">3</text>
<text transform="translate(160.40 458.60) scale(1.223 1.25)" font-size="20.2">−</text>
<text x="125.01" y="468.60" font-size="30.20"  xml:space="preserve">10</text>
<text x="176.41" y="599.80" font-size="20.2">5</text>
<text transform="translate(160.40 600.70) scale(1.223 1.25)" font-size="20.2">−</text>
<text x="125.01" y="610.70" font-size="30.20"  xml:space="preserve">10</text>
<text x="176.58" y="741.50" font-size="20.2">7</text>
<text transform="translate(160.80 742.40) scale(1.223 1.25)" font-size="20.2">−</text>
<text x="125.41" y="752.40" font-size="30.20"  xml:space="preserve">10</text>
<text x="176.52" y="884.90" font-size="20.2">9</text>
<text transform="translate(160.65 885.80) scale(1.223 1.25)" font-size="20.2">−</text>
<text x="125.26" y="895.80" font-size="30.20"  xml:space="preserve">10</text>
<text x="303.27" y="1023.90" font-size="30.20"  xml:space="preserve">10</text>
<text x="337.99" y="1012.80" font-size="20.2">0</text>
<text x="898.74" y="1023.90" font-size="30.20"  xml:space="preserve">10</text>
<text x="932.71" y="1012.80" font-size="20.2">1</text>
<text transform="translate(475.19 1058.80) scale(1.0187 1)" font-size="30.00"  xml:space="preserve">Energy ( MeV )</text>
<text transform="translate(442.51 143.75) scale(1.0540 1)" font-size="30.00"  xml:space="preserve">Differential Spectra</text>
<rect x="586.6" y="178.3" width="356.70" height="299.00" rx="5" ry="5" fill="#fff" fill-opacity="0.8" stroke="#cccccc" stroke-width="1.3"/>
<path d="M594.90 197.95H647.00" stroke="#9400d3" stroke-width="2.3"/>
<circle cx="620.95" cy="197.95" r="7.12" fill="#9400d3" stroke="#9400d3" stroke-width="1.39"/>
<text transform="translate(665.89 206.55) scale(1.0755 1)" font-size="26.40"  xml:space="preserve">01 December - 23:00</text>
<path d="M594.90 234.35H647.00" stroke="#4b0082" stroke-width="2.3"/>
<path d="M620.95 227.22L613.83 241.47L628.08 241.47Z" fill="#4b0082" stroke="#4b0082" stroke-width="1.39" stroke-linejoin="miter"/>
<text transform="translate(665.89 242.95) scale(1.0755 1)" font-size="26.40"  xml:space="preserve">02 December - 02:00</text>
<path d="M594.90 270.75H647.00" stroke="#0000ff" stroke-width="2.3"/>
<rect x="613.83" y="263.62" width="14.25" height="14.25" fill="#0000ff" stroke="#0000ff" stroke-width="1.39" stroke-linejoin="miter"/>
<text transform="translate(665.89 279.35) scale(1.0755 1)" font-size="26.40"  xml:space="preserve">02 December - 05:00</text>
<path d="M594.90 307.15H647.00" stroke="#008000" stroke-width="2.3"/>
<path d="M613.83 307.15H628.08M620.95 300.02V314.27" stroke="#008000" stroke-width="1.39" fill="none"/>
<text transform="translate(665.89 315.75) scale(1.0755 1)" font-size="26.40"  xml:space="preserve">02 December - 08:00</text>
<path d="M594.90 343.55H647.00" stroke="#00ff00" stroke-width="2.3"/>
<path d="M613.83 336.42L628.08 350.67M613.83 350.67L628.08 336.42" stroke="#00ff00" stroke-width="1.39" fill="none"/>
<text transform="translate(665.89 352.15) scale(1.0755 1)" font-size="26.40"  xml:space="preserve">02 December - 11:00</text>
<path d="M594.90 379.95H647.00" stroke="#ffa500" stroke-width="2.3"/>
<path d="M620.95 369.87L631.03 379.95L620.95 390.03L610.87 379.95Z" fill="#ffa500" stroke="#ffa500" stroke-width="1.39" stroke-linejoin="miter"/>
<text transform="translate(665.89 388.55) scale(1.0755 1)" font-size="26.40"  xml:space="preserve">02 December - 14:00</text>
<path d="M594.90 416.35H647.00" stroke="#ff0000" stroke-width="2.3"/>
<path d="M620.95 409.22L619.35 414.15L614.17 414.15L618.36 417.19L616.76 422.11L620.95 419.07L625.14 422.11L623.54 417.19L627.73 414.15L622.55 414.15Z" fill="#ff0000" stroke="#ff0000" stroke-width="1.39" stroke-linejoin="bevel"/>
<text transform="translate(665.89 424.95) scale(1.0755 1)" font-size="26.40"  xml:space="preserve">02 December - 17:00</text>
<path d="M594.90 452.75H647.00" stroke="#000000" stroke-width="2.3"/>
<path d="M620.95 459.88L613.83 445.62L628.08 445.62Z" fill="#000000" stroke="#000000" stroke-width="1.39" stroke-linejoin="miter"/>
<text transform="translate(665.89 461.35) scale(1.0755 1)" font-size="26.40"  xml:space="preserve">02 December - 20:00</text>
<g transform="translate(110.9 726.1) rotate(-90) scale(1.0668 1) translate(-1.86 0)"><text x="0.00" y="0" font-size="30.0" xml:space="preserve">( cm</text><text transform="translate(58.32 -9.9) scale(1.22 1.25)" font-size="20.2">−</text><text x="72.71" y="-10.8" font-size="20.2" xml:space="preserve">2</text><text x="83.94" y="0" font-size="30.0" xml:space="preserve">s</text><text transform="translate(98.94 -9.9) scale(1.22 1.25)" font-size="20.2">−</text><text x="113.33" y="-10.8" font-size="20.2" xml:space="preserve">1</text><text x="124.57" y="0" font-size="30.0" xml:space="preserve">sr</text><text transform="translate(149.56 -9.9) scale(1.22 1.25)" font-size="20.2">−</text><text x="163.95" y="-10.8" font-size="20.2" xml:space="preserve">1</text><text x="175.18" y="0" font-size="30.0" xml:space="preserve">MeV</text><text transform="translate(236.87 -9.9) scale(1.22 1.25)" font-size="20.2">−</text><text x="251.26" y="-10.8" font-size="20.2" xml:space="preserve">1</text><text x="262.49" y="0" font-size="30.0" xml:space="preserve"> )</text></g>
<g transform="translate(73.1 577.8) rotate(-90)"><text transform="translate(-169.19 0.00) scale(1.0721 1)" font-size="30.00"  xml:space="preserve">Differential electron flux</text></g>
<defs><clipPath id="clip1"><rect x="1144.6" y="165.3" width="755.9000000000001" height="825.0"/></clipPath></defs>
<g clip-path="url(#clip1)">
<path d="M1179.33 258.80L1213.84 296.60L1271.50 355.00L1329.16 412.80L1376.27 479.20L1416.11 563.00L1450.61 619.60L1481.05 685.10L1508.27 716.10L1532.90 737.90L1555.39 748.80L1576.07 758.80L1595.22 767.90L1613.05 777.90L1629.73 787.00L1645.39 796.10L1660.16 805.10L1674.13 813.30L1687.39 824.20L1712.02 841.60L1734.50 859.00L1755.18 875.30L1774.33 891.90L1792.16 907.60L1808.84 921.60L1839.27 952.60L1866.50 972.60" fill="none" stroke="#9400d3" stroke-width="2.3" stroke-linejoin="round" stroke-linecap="square"/>
<circle cx="1179.33" cy="258.80" r="5.70" fill="#9400d3" stroke="#9400d3" stroke-width="1.39"/>
<circle cx="1213.84" cy="296.60" r="5.70" fill="#9400d3" stroke="#9400d3" stroke-width="1.39"/>
<circle cx="1271.50" cy="355.00" r="5.70" fill="#9400d3" stroke="#9400d3" stroke-width="1.39"/>
<circle cx="1329.16" cy="412.80" r="5.70" fill="#9400d3" stroke="#9400d3" stroke-width="1.39"/>
<circle cx="1376.27" cy="479.20" r="5.70" fill="#9400d3" stroke="#9400d3" stroke-width="1.39"/>
<circle cx="1416.11" cy="563.00" r="5.70" fill="#9400d3" stroke="#9400d3" stroke-width="1.39"/>
<circle cx="1450.61" cy="619.60" r="5.70" fill="#9400d3" stroke="#9400d3" stroke-width="1.39"/>
<circle cx="1481.05" cy="685.10" r="5.70" fill="#9400d3" stroke="#9400d3" stroke-width="1.39"/>
<circle cx="1508.27" cy="716.10" r="5.70" fill="#9400d3" stroke="#9400d3" stroke-width="1.39"/>
<circle cx="1532.90" cy="737.90" r="5.70" fill="#9400d3" stroke="#9400d3" stroke-width="1.39"/>
<circle cx="1555.39" cy="748.80" r="5.70" fill="#9400d3" stroke="#9400d3" stroke-width="1.39"/>
<circle cx="1576.07" cy="758.80" r="5.70" fill="#9400d3" stroke="#9400d3" stroke-width="1.39"/>
<circle cx="1595.22" cy="767.90" r="5.70" fill="#9400d3" stroke="#9400d3" stroke-width="1.39"/>
<circle cx="1613.05" cy="777.90" r="5.70" fill="#9400d3" stroke="#9400d3" stroke-width="1.39"/>
<circle cx="1629.73" cy="787.00" r="5.70" fill="#9400d3" stroke="#9400d3" stroke-width="1.39"/>
<circle cx="1645.39" cy="796.10" r="5.70" fill="#9400d3" stroke="#9400d3" stroke-width="1.39"/>
<circle cx="1660.16" cy="805.10" r="5.70" fill="#9400d3" stroke="#9400d3" stroke-width="1.39"/>
<circle cx="1674.13" cy="813.30" r="5.70" fill="#9400d3" stroke="#9400d3" stroke-width="1.39"/>
<circle cx="1687.39" cy="824.20" r="5.70" fill="#9400d3" stroke="#9400d3" stroke-width="1.39"/>
<circle cx="1712.02" cy="841.60" r="5.70" fill="#9400d3" stroke="#9400d3" stroke-width="1.39"/>
<circle cx="1734.50" cy="859.00" r="5.70" fill="#9400d3" stroke="#9400d3" stroke-width="1.39"/>
<circle cx="1755.18" cy="875.30" r="5.70" fill="#9400d3" stroke="#9400d3" stroke-width="1.39"/>
<circle cx="1774.33" cy="891.90" r="5.70" fill="#9400d3" stroke="#9400d3" stroke-width="1.39"/>
<circle cx="1792.16" cy="907.60" r="5.70" fill="#9400d3" stroke="#9400d3" stroke-width="1.39"/>
<circle cx="1808.84" cy="921.60" r="5.70" fill="#9400d3" stroke="#9400d3" stroke-width="1.39"/>
<circle cx="1839.27" cy="952.60" r="5.70" fill="#9400d3" stroke="#9400d3" stroke-width="1.39"/>
<circle cx="1866.50" cy="972.60" r="5.70" fill="#9400d3" stroke="#9400d3" stroke-width="1.39"/>
<path d="M1179.33 170.10L1213.84 180.50L1271.50 208.50L1329.16 257.80L1376.27 322.00L1416.11 408.00L1450.61 466.00L1481.05 539.00L1508.27 583.20L1532.90 630.50L1555.39 656.20L1576.07 684.40L1595.22 701.60L1613.05 719.00L1629.73 736.20L1645.39 749.00L1660.16 761.60L1674.13 774.40L1687.39 786.50L1712.02 808.00L1734.50 830.70L1755.18 850.70L1774.33 870.70L1792.16 891.30L1808.84 908.50L1839.27 945.60L1866.50 977.00" fill="none" stroke="#4b0082" stroke-width="2.3" stroke-linejoin="round" stroke-linecap="square"/>
<path d="M1179.33 164.40L1173.63 175.80L1185.03 175.80Z" fill="#4b0082" stroke="#4b0082" stroke-width="1.39" stroke-linejoin="miter"/>
<path d="M1213.84 174.80L1208.14 186.20L1219.54 186.20Z" fill="#4b0082" stroke="#4b0082" stroke-width="1.39" stroke-linejoin="miter"/>
<path d="M1271.50 202.80L1265.80 214.20L1277.20 214.20Z" fill="#4b0082" stroke="#4b0082" stroke-width="1.39" stroke-linejoin="miter"/>
<path d="M1329.16 252.10L1323.46 263.50L1334.86 263.50Z" fill="#4b0082" stroke="#4b0082" stroke-width="1.39" stroke-linejoin="miter"/>
<path d="M1376.27 316.30L1370.57 327.70L1381.97 327.70Z" fill="#4b0082" stroke="#4b0082" stroke-width="1.39" stroke-linejoin="miter"/>
<path d="M1416.11 402.30L1410.41 413.70L1421.81 413.70Z" fill="#4b0082" stroke="#4b0082" stroke-width="1.39" stroke-linejoin="miter"/>
<path d="M1450.61 460.30L1444.91 471.70L1456.31 471.70Z" fill="#4b0082" stroke="#4b0082" stroke-width="1.39" stroke-linejoin="miter"/>
<path d="M1481.05 533.30L1475.35 544.70L1486.75 544.70Z" fill="#4b0082" stroke="#4b0082" stroke-width="1.39" stroke-linejoin="miter"/>
<path d="M1508.27 577.50L1502.57 588.90L1513.97 588.90Z" fill="#4b0082" stroke="#4b0082" stroke-width="1.39" stroke-linejoin="miter"/>
<path d="M1532.90 624.80L1527.20 636.20L1538.60 636.20Z" fill="#4b0082" stroke="#4b0082" stroke-width="1.39" stroke-linejoin="miter"/>
<path d="M1555.39 650.50L1549.69 661.90L1561.09 661.90Z" fill="#4b0082" stroke="#4b0082" stroke-width="1.39" stroke-linejoin="miter"/>
<path d="M1576.07 678.70L1570.37 690.10L1581.77 690.10Z" fill="#4b0082" stroke="#4b0082" stroke-width="1.39" stroke-linejoin="miter"/>
<path d="M1595.22 695.90L1589.52 707.30L1600.92 707.30Z" fill="#4b0082" stroke="#4b0082" stroke-width="1.39" stroke-linejoin="miter"/>
<path d="M1613.05 713.30L1607.35 724.70L1618.75 724.70Z" fill="#4b0082" stroke="#4b0082" stroke-width="1.39" stroke-linejoin="miter"/>
<path d="M1629.73 730.50L1624.03 741.90L1635.43 741.90Z" fill="#4b0082" stroke="#4b0082" stroke-width="1.39" stroke-linejoin="miter"/>
<path d="M1645.39 743.30L1639.69 754.70L1651.09 754.70Z" fill="#4b0082" stroke="#4b0082" stroke-width="1.39" stroke-linejoin="miter"/>
<path d="M1660.16 755.90L1654.46 767.30L1665.86 767.30Z" fill="#4b0082" stroke="#4b0082" stroke-width="1.39" stroke-linejoin="miter"/>
<path d="M1674.13 768.70L1668.43 780.10L1679.83 780.10Z" fill="#4b0082" stroke="#4b0082" stroke-width="1.39" stroke-linejoin="miter"/>
<path d="M1687.39 780.80L1681.69 792.20L1693.09 792.20Z" fill="#4b0082" stroke="#4b0082" stroke-width="1.39" stroke-linejoin="miter"/>
<path d="M1712.02 802.30L1706.32 813.70L1717.72 813.70Z" fill="#4b0082" stroke="#4b0082" stroke-width="1.39" stroke-linejoin="miter"/>
<path d="M1734.50 825.00L1728.80 836.40L1740.20 836.40Z" fill="#4b0082" stroke="#4b0082" stroke-width="1.39" stroke-linejoin="miter"/>
<path d="M1755.18 845.00L1749.48 856.40L1760.88 856.40Z" fill="#4b0082" stroke="#4b0082" stroke-width="1.39" stroke-linejoin="miter"/>
<path d="M1774.33 865.00L1768.63 876.40L1780.03 876.40Z" fill="#4b0082" stroke="#4b0082" stroke-width="1.39" stroke-linejoin="miter"/>
<path d="M1792.16 885.60L1786.46 897.00L1797.86 897.00Z" fill="#4b0082" stroke="#4b0082" stroke-width="1.39" stroke-linejoin="miter"/>
<path d="M1808.84 902.80L1803.14 914.20L1814.54 914.20Z" fill="#4b0082" stroke="#4b0082" stroke-width="1.39" stroke-linejoin="miter"/>
<path d="M1839.27 939.90L1833.57 951.30L1844.97 951.30Z" fill="#4b0082" stroke="#4b0082" stroke-width="1.39" stroke-linejoin="miter"/>
<path d="M1866.50 971.30L1860.80 982.70L1872.20 982.70Z" fill="#4b0082" stroke="#4b0082" stroke-width="1.39" stroke-linejoin="miter"/>
<path d="M1179.33 258.80L1213.84 292.00L1271.50 341.90L1329.16 396.40L1376.27 461.40L1416.11 545.60L1450.61 604.60L1481.05 672.00L1508.27 705.10L1532.90 727.90L1555.39 741.60L1576.07 750.60L1595.22 759.60L1613.05 768.80L1629.73 777.90L1645.39 786.60L1660.16 796.10L1674.13 805.10L1687.39 815.10L1712.02 832.10L1734.50 849.80L1755.18 866.30L1774.33 882.30L1792.16 898.60L1808.84 912.60L1839.27 942.20L1866.50 967.90" fill="none" stroke="#0000ff" stroke-width="2.3" stroke-linejoin="round" stroke-linecap="square"/>
<rect x="1173.63" y="253.10" width="11.40" height="11.40" fill="#0000ff" stroke="#0000ff" stroke-width="1.39" stroke-linejoin="miter"/>
<rect x="1208.14" y="286.30" width="11.40" height="11.40" fill="#0000ff" stroke="#0000ff" stroke-width="1.39" stroke-linejoin="miter"/>
<rect x="1265.80" y="336.20" width="11.40" height="11.40" fill="#0000ff" stroke="#0000ff" stroke-width="1.39" stroke-linejoin="miter"/>
<rect x="1323.46" y="390.70" width="11.40" height="11.40" fill="#0000ff" stroke="#0000ff" stroke-width="1.39" stroke-linejoin="miter"/>
<rect x="1370.57" y="455.70" width="11.40" height="11.40" fill="#0000ff" stroke="#0000ff" stroke-width="1.39" stroke-linejoin="miter"/>
<rect x="1410.41" y="539.90" width="11.40" height="11.40" fill="#0000ff" stroke="#0000ff" stroke-width="1.39" stroke-linejoin="miter"/>
<rect x="1444.91" y="598.90" width="11.40" height="11.40" fill="#0000ff" stroke="#0000ff" stroke-width="1.39" stroke-linejoin="miter"/>
<rect x="1475.35" y="666.30" width="11.40" height="11.40" fill="#0000ff" stroke="#0000ff" stroke-width="1.39" stroke-linejoin="miter"/>
<rect x="1502.57" y="699.40" width="11.40" height="11.40" fill="#0000ff" stroke="#0000ff" stroke-width="1.39" stroke-linejoin="miter"/>
<rect x="1527.20" y="722.20" width="11.40" height="11.40" fill="#0000ff" stroke="#0000ff" stroke-width="1.39" stroke-linejoin="miter"/>
<rect x="1549.69" y="735.90" width="11.40" height="11.40" fill="#0000ff" stroke="#0000ff" stroke-width="1.39" stroke-linejoin="miter"/>
<rect x="1570.37" y="744.90" width="11.40" height="11.40" fill="#0000ff" stroke="#0000ff" stroke-width="1.39" stroke-linejoin="miter"/>
<rect x="1589.52" y="753.90" width="11.40" height="11.40" fill="#0000ff" stroke="#0000ff" stroke-width="1.39" stroke-linejoin="miter"/>
<rect x="1607.35" y="763.10" width="11.40" height="11.40" fill="#0000ff" stroke="#0000ff" stroke-width="1.39" stroke-linejoin="miter"/>
<rect x="1624.03" y="772.20" width="11.40" height="11.40" fill="#0000ff" stroke="#0000ff" stroke-width="1.39" stroke-linejoin="miter"/>
<rect x="1639.69" y="780.90" width="11.40" height="11.40" fill="#0000ff" stroke="#0000ff" stroke-width="1.39" stroke-linejoin="miter"/>
<rect x="1654.46" y="790.40" width="11.40" height="11.40" fill="#0000ff" stroke="#0000ff" stroke-width="1.39" stroke-linejoin="miter"/>
<rect x="1668.43" y="799.40" width="11.40" height="11.40" fill="#0000ff" stroke="#0000ff" stroke-width="1.39" stroke-linejoin="miter"/>
<rect x="1681.69" y="809.40" width="11.40" height="11.40" fill="#0000ff" stroke="#0000ff" stroke-width="1.39" stroke-linejoin="miter"/>
<rect x="1706.32" y="826.40" width="11.40" height="11.40" fill="#0000ff" stroke="#0000ff" stroke-width="1.39" stroke-linejoin="miter"/>
<rect x="1728.80" y="844.10" width="11.40" height="11.40" fill="#0000ff" stroke="#0000ff" stroke-width="1.39" stroke-linejoin="miter"/>
<rect x="1749.48" y="860.60" width="11.40" height="11.40" fill="#0000ff" stroke="#0000ff" stroke-width="1.39" stroke-linejoin="miter"/>
<rect x="1768.63" y="876.60" width="11.40" height="11.40" fill="#0000ff" stroke="#0000ff" stroke-width="1.39" stroke-linejoin="miter"/>
<rect x="1786.46" y="892.90" width="11.40" height="11.40" fill="#0000ff" stroke="#0000ff" stroke-width="1.39" stroke-linejoin="miter"/>
<rect x="1803.14" y="906.90" width="11.40" height="11.40" fill="#0000ff" stroke="#0000ff" stroke-width="1.39" stroke-linejoin="miter"/>
<rect x="1833.57" y="936.50" width="11.40" height="11.40" fill="#0000ff" stroke="#0000ff" stroke-width="1.39" stroke-linejoin="miter"/>
<rect x="1860.80" y="962.20" width="11.40" height="11.40" fill="#0000ff" stroke="#0000ff" stroke-width="1.39" stroke-linejoin="miter"/>
<path d="M1179.33 169.22L1213.84 179.46L1271.50 207.22L1329.16 256.56L1376.27 320.56L1416.11 407.08L1450.61 465.08L1481.05 540.28L1508.27 584.28L1532.90 631.14L1555.39 657.52L1576.07 685.72L1595.22 702.96L1613.05 720.28L1629.73 737.52L1645.39 750.28L1660.16 762.96L1674.13 775.72L1687.39 787.70L1712.02 809.32L1734.50 832.02L1755.18 852.02L1774.33 872.22L1792.16 892.70L1808.84 909.70L1839.27 947.08L1866.50 977.60" fill="none" stroke="#008000" stroke-width="2.3" stroke-linejoin="round" stroke-linecap="square"/>
<path d="M1173.63 169.22H1185.03M1179.33 163.52V174.92" stroke="#008000" stroke-width="1.39" fill="none"/>
<path d="M1208.14 179.46H1219.54M1213.84 173.76V185.16" stroke="#008000" stroke-width="1.39" fill="none"/>
<path d="M1265.80 207.22H1277.20M1271.50 201.52V212.92" stroke="#008000" stroke-width="1.39" fill="none"/>
<path d="M1323.46 256.56H1334.86M1329.16 250.86V262.26" stroke="#008000" stroke-width="1.39" fill="none"/>
<path d="M1370.57 320.56H1381.97M1376.27 314.86V326.26" stroke="#008000" stroke-width="1.39" fill="none"/>
<path d="M1410.41 407.08H1421.81M1416.11 401.38V412.78" stroke="#008000" stroke-width="1.39" fill="none"/>
<path d="M1444.91 465.08H1456.31M1450.61 459.38V470.78" stroke="#008000" stroke-width="1.39" fill="none"/>
<path d="M1475.35 540.28H1486.75M1481.05 534.58V545.98" stroke="#008000" stroke-width="1.39" fill="none"/>
<path d="M1502.57 584.28H1513.97M1508.27 578.58V589.98" stroke="#008000" stroke-width="1.39" fill="none"/>
<path d="M1527.20 631.14H1538.60M1532.90 625.44V636.84" stroke="#008000" stroke-width="1.39" fill="none"/>
<path d="M1549.69 657.52H1561.09M1555.39 651.82V663.22" stroke="#008000" stroke-width="1.39" fill="none"/>
<path d="M1570.37 685.72H1581.77M1576.07 680.02V691.42" stroke="#008000" stroke-width="1.39" fill="none"/>
<path d="M1589.52 702.96H1600.92M1595.22 697.26V708.66" stroke="#008000" stroke-width="1.39" fill="none"/>
<path d="M1607.35 720.28H1618.75M1613.05 714.58V725.98" stroke="#008000" stroke-width="1.39" fill="none"/>
<path d="M1624.03 737.52H1635.43M1629.73 731.82V743.22" stroke="#008000" stroke-width="1.39" fill="none"/>
<path d="M1639.69 750.28H1651.09M1645.39 744.58V755.98" stroke="#008000" stroke-width="1.39" fill="none"/>
<path d="M1654.46 762.96H1665.86M1660.16 757.26V768.66" stroke="#008000" stroke-width="1.39" fill="none"/>
<path d="M1668.43 775.72H1679.83M1674.13 770.02V781.42" stroke="#008000" stroke-width="1.39" fill="none"/>
<path d="M1681.69 787.70H1693.09M1687.39 782.00V793.40" stroke="#008000" stroke-width="1.39" fill="none"/>
<path d="M1706.32 809.32H1717.72M1712.02 803.62V815.02" stroke="#008000" stroke-width="1.39" fill="none"/>
<path d="M1728.80 832.02H1740.20M1734.50 826.32V837.72" stroke="#008000" stroke-width="1.39" fill="none"/>
<path d="M1749.48 852.02H1760.88M1755.18 846.32V857.72" stroke="#008000" stroke-width="1.39" fill="none"/>
<path d="M1768.63 872.22H1780.03M1774.33 866.52V877.92" stroke="#008000" stroke-width="1.39" fill="none"/>
<path d="M1786.46 892.70H1797.86M1792.16 887.00V898.40" stroke="#008000" stroke-width="1.39" fill="none"/>
<path d="M1803.14 909.70H1814.54M1808.84 904.00V915.40" stroke="#008000" stroke-width="1.39" fill="none"/>
<path d="M1833.57 947.08H1844.97M1839.27 941.38V952.78" stroke="#008000" stroke-width="1.39" fill="none"/>
<path d="M1860.80 977.60H1872.20M1866.50 971.90V983.30" stroke="#008000" stroke-width="1.39" fill="none"/>
<path d="M1179.33 257.20L1213.84 288.90L1271.50 336.40L1329.16 392.10L1376.27 456.30L1416.11 542.00L1450.61 600.60L1481.05 669.10L1508.27 702.60L1532.90 725.10L1555.39 737.00L1576.07 745.10L1595.22 754.20L1613.05 764.20L1629.73 772.40L1645.39 781.10L1660.16 790.60L1674.13 799.60L1687.39 808.80L1712.02 827.90L1734.50 845.10L1755.18 860.60L1774.33 876.60L1792.16 890.60L1808.84 903.10L1839.27 936.50L1866.50 962.20" fill="none" stroke="#00ff00" stroke-width="2.3" stroke-linejoin="round" stroke-linecap="square"/>
<path d="M1173.63 251.50L1185.03 262.90M1173.63 262.90L1185.03 251.50" stroke="#00ff00" stroke-width="1.39" fill="none"/>
<path d="M1208.14 283.20L1219.54 294.60M1208.14 294.60L1219.54 283.20" stroke="#00ff00" stroke-width="1.39" fill="none"/>
<path d="M1265.80 330.70L1277.20 342.10M1265.80 342.10L1277.20 330.70" stroke="#00ff00" stroke-width="1.39" fill="none"/>
<path d="M1323.46 386.40L1334.86 397.80M1323.46 397.80L1334.86 386.40" stroke="#00ff00" stroke-width="1.39" fill="none"/>
<path d="M1370.57 450.60L1381.97 462.00M1370.57 462.00L1381.97 450.60" stroke="#00ff00" stroke-width="1.39" fill="none"/>
<path d="M1410.41 536.30L1421.81 547.70M1410.41 547.70L1421.81 536.30" stroke="#00ff00" stroke-width="1.39" fill="none"/>
<path d="M1444.91 594.90L1456.31 606.30M1444.91 606.30L1456.31 594.90" stroke="#00ff00" stroke-width="1.39" fill="none"/>
<path d="M1475.35 663.40L1486.75 674.80M1475.35 674.80L1486.75 663.40" stroke="#00ff00" stroke-width="1.39" fill="none"/>
<path d="M1502.57 696.90L1513.97 708.30M1502.57 708.30L1513.97 696.90" stroke="#00ff00" stroke-width="1.39" fill="none"/>
<path d="M1527.20 719.40L1538.60 730.80M1527.20 730.80L1538.60 719.40" stroke="#00ff00" stroke-width="1.39" fill="none"/>
<path d="M1549.69 731.30L1561.09 742.70M1549.69 742.70L1561.09 731.30" stroke="#00ff00" stroke-width="1.39" fill="none"/>
<path d="M1570.37 739.40L1581.77 750.80M1570.37 750.80L1581.77 739.40" stroke="#00ff00" stroke-width="1.39" fill="none"/>
<path d="M1589.52 748.50L1600.92 759.90M1589.52 759.90L1600.92 748.50" stroke="#00ff00" stroke-width="1.39" fill="none"/>
<path d="M1607.35 758.50L1618.75 769.90M1607.35 769.90L1618.75 758.50" stroke="#00ff00" stroke-width="1.39" fill="none"/>
<path d="M1624.03 766.70L1635.43 778.10M1624.03 778.10L1635.43 766.70" stroke="#00ff00" stroke-width="1.39" fill="none"/>
<path d="M1639.69 775.40L1651.09 786.80M1639.69 786.80L1651.09 775.40" stroke="#00ff00" stroke-width="1.39" fill="none"/>
<path d="M1654.46 784.90L1665.86 796.30M1654.46 796.30L1665.86 784.90" stroke="#00ff00" stroke-width="1.39" fill="none"/>
<path d="M1668.43 793.90L1679.83 805.30M1668.43 805.30L1679.83 793.90" stroke="#00ff00" stroke-width="1.39" fill="none"/>
<path d="M1681.69 803.10L1693.09 814.50M1681.69 814.50L1693.09 803.10" stroke="#00ff00" stroke-width="1.39" fill="none"/>
<path d="M1706.32 822.20L1717.72 833.60M1706.32 833.60L1717.72 822.20" stroke="#00ff00" stroke-width="1.39" fill="none"/>
<path d="M1728.80 839.40L1740.20 850.80M1728.80 850.80L1740.20 839.40" stroke="#00ff00" stroke-width="1.39" fill="none"/>
<path d="M1749.48 854.90L1760.88 866.30M1749.48 866.30L1760.88 854.90" stroke="#00ff00" stroke-width="1.39" fill="none"/>
<path d="M1768.63 870.90L1780.03 882.30M1768.63 882.30L1780.03 870.90" stroke="#00ff00" stroke-width="1.39" fill="none"/>
<path d="M1786.46 884.90L1797.86 896.30M1786.46 896.30L1797.86 884.90" stroke="#00ff00" stroke-width="1.39" fill="none"/>
<path d="M1803.14 897.40L1814.54 908.80M1803.14 908.80L1814.54 897.40" stroke="#00ff00" stroke-width="1.39" fill="none"/>
<path d="M1833.57 930.80L1844.97 942.20M1833.57 942.20L1844.97 930.80" stroke="#00ff00" stroke-width="1.39" fill="none"/>
<path d="M1860.80 956.50L1872.20 967.90M1860.80 967.90L1872.20 956.50" stroke="#00ff00" stroke-width="1.39" fill="none"/>
<path d="M1179.33 167.90L1213.84 177.90L1271.50 205.30L1329.16 254.70L1376.27 318.40L1416.11 405.70L1450.61 463.70L1481.05 542.20L1508.27 585.90L1532.90 632.10L1555.39 659.50L1576.07 687.70L1595.22 705.00L1613.05 722.20L1629.73 739.50L1645.39 752.20L1660.16 765.00L1674.13 777.70L1687.39 789.50L1712.02 811.30L1734.50 834.00L1755.18 854.00L1774.33 874.50L1792.16 894.80L1808.84 911.50L1839.27 950.50L1866.50 979.30" fill="none" stroke="#ffa500" stroke-width="2.3" stroke-linejoin="round" stroke-linecap="square"/>
<path d="M1179.33 159.84L1187.39 167.90L1179.33 175.96L1171.27 167.90Z" fill="#ffa500" stroke="#ffa500" stroke-width="1.39" stroke-linejoin="miter"/>
<path d="M1213.84 169.84L1221.90 177.90L1213.84 185.96L1205.78 177.90Z" fill="#ffa500" stroke="#ffa500" stroke-width="1.39" stroke-linejoin="miter"/>
<path d="M1271.50 197.24L1279.56 205.30L1271.50 213.36L1263.44 205.30Z" fill="#ffa500" stroke="#ffa500" stroke-width="1.39" stroke-linejoin="miter"/>
<path d="M1329.16 246.64L1337.22 254.70L1329.16 262.76L1321.10 254.70Z" fill="#ffa500" stroke="#ffa500" stroke-width="1.39" stroke-linejoin="miter"/>
<path d="M1376.27 310.34L1384.34 318.40L1376.27 326.46L1368.21 318.40Z" fill="#ffa500" stroke="#ffa500" stroke-width="1.39" stroke-linejoin="miter"/>
<path d="M1416.11 397.64L1424.17 405.70L1416.11 413.76L1408.05 405.70Z" fill="#ffa500" stroke="#ffa500" stroke-width="1.39" stroke-linejoin="miter"/>
<path d="M1450.61 455.64L1458.67 463.70L1450.61 471.76L1442.55 463.70Z" fill="#ffa500" stroke="#ffa500" stroke-width="1.39" stroke-linejoin="miter"/>
<path d="M1481.05 534.14L1489.11 542.20L1481.05 550.26L1472.99 542.20Z" fill="#ffa500" stroke="#ffa500" stroke-width="1.39" stroke-linejoin="miter"/>
<path d="M1508.27 577.84L1516.34 585.90L1508.27 593.96L1500.21 585.90Z" fill="#ffa500" stroke="#ffa500" stroke-width="1.39" stroke-linejoin="miter"/>
<path d="M1532.90 624.04L1540.96 632.10L1532.90 640.16L1524.84 632.10Z" fill="#ffa500" stroke="#ffa500" stroke-width="1.39" stroke-linejoin="miter"/>
<path d="M1555.39 651.44L1563.45 659.50L1555.39 667.56L1547.33 659.50Z" fill="#ffa500" stroke="#ffa500" stroke-width="1.39" stroke-linejoin="miter"/>
<path d="M1576.07 679.64L1584.13 687.70L1576.07 695.76L1568.01 687.70Z" fill="#ffa500" stroke="#ffa500" stroke-width="1.39" stroke-linejoin="miter"/>
<path d="M1595.22 696.94L1603.28 705.00L1595.22 713.06L1587.16 705.00Z" fill="#ffa500" stroke="#ffa500" stroke-width="1.39" stroke-linejoin="miter"/>
<path d="M1613.05 714.14L1621.11 722.20L1613.05 730.26L1604.99 722.20Z" fill="#ffa500" stroke="#ffa500" stroke-width="1.39" stroke-linejoin="miter"/>
<path d="M1629.73 731.44L1637.79 739.50L1629.73 747.56L1621.66 739.50Z" fill="#ffa500" stroke="#ffa500" stroke-width="1.39" stroke-linejoin="miter"/>
<path d="M1645.39 744.14L1653.45 752.20L1645.39 760.26L1637.33 752.20Z" fill="#ffa500" stroke="#ffa500" stroke-width="1.39" stroke-linejoin="miter"/>
<path d="M1660.16 756.94L1668.22 765.00L1660.16 773.06L1652.10 765.00Z" fill="#ffa500" stroke="#ffa500" stroke-width="1.39" stroke-linejoin="miter"/>
<path d="M1674.13 769.64L1682.19 777.70L1674.13 785.76L1666.07 777.70Z" fill="#ffa500" stroke="#ffa500" stroke-width="1.39" stroke-linejoin="miter"/>
<path d="M1687.39 781.44L1695.45 789.50L1687.39 797.56L1679.33 789.50Z" fill="#ffa500" stroke="#ffa500" stroke-width="1.39" stroke-linejoin="miter"/>
<path d="M1712.02 803.24L1720.08 811.30L1712.02 819.36L1703.95 811.30Z" fill="#ffa500" stroke="#ffa500" stroke-width="1.39" stroke-linejoin="miter"/>
<path d="M1734.50 825.94L1742.56 834.00L1734.50 842.06L1726.44 834.00Z" fill="#ffa500" stroke="#ffa500" stroke-width="1.39" stroke-linejoin="miter"/>
<path d="M1755.18 845.94L1763.24 854.00L1755.18 862.06L1747.12 854.00Z" fill="#ffa500" stroke="#ffa500" stroke-width="1.39" stroke-linejoin="miter"/>
<path d="M1774.33 866.44L1782.39 874.50L1774.33 882.56L1766.27 874.50Z" fill="#ffa500" stroke="#ffa500" stroke-width="1.39" stroke-linejoin="miter"/>
<path d="M1792.16 886.74L1800.22 894.80L1792.16 902.86L1784.10 894.80Z" fill="#ffa500" stroke="#ffa500" stroke-width="1.39" stroke-linejoin="miter"/>
<path d="M1808.84 903.44L1816.90 911.50L1808.84 919.56L1800.78 911.50Z" fill="#ffa500" stroke="#ffa500" stroke-width="1.39" stroke-linejoin="miter"/>
<path d="M1839.27 942.44L1847.34 950.50L1839.27 958.56L1831.21 950.50Z" fill="#ffa500" stroke="#ffa500" stroke-width="1.39" stroke-linejoin="miter"/>
<path d="M1866.50 971.24L1874.56 979.30L1866.50 987.36L1858.44 979.30Z" fill="#ffa500" stroke="#ffa500" stroke-width="1.39" stroke-linejoin="miter"/>
<path d="M1179.33 258.80L1213.84 292.00L1271.50 343.00L1329.16 398.60L1376.27 463.60L1416.11 548.60L1450.61 608.60L1481.05 675.30L1508.27 702.80L1532.90 719.60L1555.39 729.60L1576.07 737.90L1595.22 746.40L1613.05 755.60L1629.73 764.20L1645.39 772.80L1660.16 782.40L1674.13 791.60L1687.39 800.60L1712.02 817.90L1734.50 834.20L1755.18 850.10L1774.33 866.60L1792.16 882.80L1808.84 896.60L1839.27 927.10L1866.50 953.50" fill="none" stroke="#ff0000" stroke-width="2.3" stroke-linejoin="round" stroke-linecap="square"/>
<path d="M1179.33 253.10L1178.05 257.04L1173.91 257.04L1177.26 259.47L1175.98 263.41L1179.33 260.98L1182.68 263.41L1181.40 259.47L1184.75 257.04L1180.61 257.04Z" fill="#ff0000" stroke="#ff0000" stroke-width="1.39" stroke-linejoin="bevel"/>
<path d="M1213.84 286.30L1212.56 290.24L1208.42 290.24L1211.77 292.67L1210.49 296.61L1213.84 294.18L1217.19 296.61L1215.91 292.67L1219.26 290.24L1215.12 290.24Z" fill="#ff0000" stroke="#ff0000" stroke-width="1.39" stroke-linejoin="bevel"/>
<path d="M1271.50 337.30L1270.22 341.24L1266.08 341.24L1269.43 343.67L1268.15 347.61L1271.50 345.18L1274.85 347.61L1273.57 343.67L1276.92 341.24L1272.78 341.24Z" fill="#ff0000" stroke="#ff0000" stroke-width="1.39" stroke-linejoin="bevel"/>
<path d="M1329.16 392.90L1327.88 396.84L1323.74 396.84L1327.09 399.27L1325.81 403.21L1329.16 400.78L1332.51 403.21L1331.23 399.27L1334.58 396.84L1330.44 396.84Z" fill="#ff0000" stroke="#ff0000" stroke-width="1.39" stroke-linejoin="bevel"/>
<path d="M1376.27 457.90L1374.99 461.84L1370.85 461.84L1374.20 464.27L1372.92 468.21L1376.27 465.78L1379.62 468.21L1378.34 464.27L1381.70 461.84L1377.55 461.84Z" fill="#ff0000" stroke="#ff0000" stroke-width="1.39" stroke-linejoin="bevel"/>
<path d="M1416.11 542.90L1414.83 546.84L1410.69 546.84L1414.04 549.27L1412.76 553.21L1416.11 550.78L1419.46 553.21L1418.18 549.27L1421.53 546.84L1417.39 546.84Z" fill="#ff0000" stroke="#ff0000" stroke-width="1.39" stroke-linejoin="bevel"/>
<path d="M1450.61 602.90L1449.33 606.84L1445.19 606.84L1448.54 609.27L1447.26 613.21L1450.61 610.78L1453.96 613.21L1452.68 609.27L1456.03 606.84L1451.89 606.84Z" fill="#ff0000" stroke="#ff0000" stroke-width="1.39" stroke-linejoin="bevel"/>
<path d="M1481.05 669.60L1479.77 673.54L1475.63 673.54L1478.98 675.97L1477.70 679.91L1481.05 677.48L1484.40 679.91L1483.12 675.97L1486.47 673.54L1482.33 673.54Z" fill="#ff0000" stroke="#ff0000" stroke-width="1.39" stroke-linejoin="bevel"/>
<path d="M1508.27 697.10L1506.99 701.04L1502.85 701.04L1506.20 703.47L1504.92 707.41L1508.27 704.98L1511.62 707.41L1510.34 703.47L1513.70 701.04L1509.55 701.04Z" fill="#ff0000" stroke="#ff0000" stroke-width="1.39" stroke-linejoin="bevel"/>
<path d="M1532.90 713.90L1531.62 717.84L1527.48 717.84L1530.83 720.27L1529.55 724.21L1532.90 721.78L1536.25 724.21L1534.97 720.27L1538.32 717.84L1534.18 717.84Z" fill="#ff0000" stroke="#ff0000" stroke-width="1.39" stroke-linejoin="bevel"/>
<path d="M1555.39 723.90L1554.11 727.84L1549.97 727.84L1553.32 730.27L1552.04 734.21L1555.39 731.78L1558.74 734.21L1557.46 730.27L1560.81 727.84L1556.67 727.84Z" fill="#ff0000" stroke="#ff0000" stroke-width="1.39" stroke-linejoin="bevel"/>
<path d="M1576.07 732.20L1574.79 736.14L1570.65 736.14L1574.00 738.57L1572.72 742.51L1576.07 740.08L1579.42 742.51L1578.14 738.57L1581.49 736.14L1577.35 736.14Z" fill="#ff0000" stroke="#ff0000" stroke-width="1.39" stroke-linejoin="bevel"/>
<path d="M1595.22 740.70L1593.94 744.64L1589.80 744.64L1593.15 747.07L1591.87 751.01L1595.22 748.58L1598.57 751.01L1597.29 747.07L1600.64 744.64L1596.50 744.64Z" fill="#ff0000" stroke="#ff0000" stroke-width="1.39" stroke-linejoin="bevel"/>
<path d="M1613.05 749.90L1611.77 753.84L1607.63 753.84L1610.98 756.27L1609.70 760.21L1613.05 757.78L1616.40 760.21L1615.12 756.27L1618.47 753.84L1614.33 753.84Z" fill="#ff0000" stroke="#ff0000" stroke-width="1.39" stroke-linejoin="bevel"/>
<path d="M1629.73 758.50L1628.45 762.44L1624.30 762.44L1627.66 764.87L1626.38 768.81L1629.73 766.38L1633.08 768.81L1631.80 764.87L1635.15 762.44L1631.01 762.44Z" fill="#ff0000" stroke="#ff0000" stroke-width="1.39" stroke-linejoin="bevel"/>
<path d="M1645.39 767.10L1644.11 771.04L1639.97 771.04L1643.32 773.47L1642.04 777.41L1645.39 774.98L1648.74 777.41L1647.46 773.47L1650.81 771.04L1646.67 771.04Z" fill="#ff0000" stroke="#ff0000" stroke-width="1.39" stroke-linejoin="bevel"/>
<path d="M1660.16 776.70L1658.88 780.64L1654.74 780.64L1658.09 783.07L1656.81 787.01L1660.16 784.58L1663.51 787.01L1662.23 783.07L1665.58 780.64L1661.44 780.64Z" fill="#ff0000" stroke="#ff0000" stroke-width="1.39" stroke-linejoin="bevel"/>
<path d="M1674.13 785.90L1672.85 789.84L1668.71 789.84L1672.06 792.27L1670.78 796.21L1674.13 793.78L1677.48 796.21L1676.20 792.27L1679.55 789.84L1675.41 789.84Z" fill="#ff0000" stroke="#ff0000" stroke-width="1.39" stroke-linejoin="bevel"/>
<path d="M1687.39 794.90L1686.11 798.84L1681.97 798.84L1685.32 801.27L1684.04 805.21L1687.39 802.78L1690.74 805.21L1689.46 801.27L1692.81 798.84L1688.67 798.84Z" fill="#ff0000" stroke="#ff0000" stroke-width="1.39" stroke-linejoin="bevel"/>
<path d="M1712.02 812.20L1710.74 816.14L1706.59 816.14L1709.95 818.57L1708.67 822.51L1712.02 820.08L1715.37 822.51L1714.09 818.57L1717.44 816.14L1713.30 816.14Z" fill="#ff0000" stroke="#ff0000" stroke-width="1.39" stroke-linejoin="bevel"/>
<path d="M1734.50 828.50L1733.22 832.44L1729.08 832.44L1732.43 834.87L1731.15 838.81L1734.50 836.38L1737.85 838.81L1736.57 834.87L1739.92 832.44L1735.78 832.44Z" fill="#ff0000" stroke="#ff0000" stroke-width="1.39" stroke-linejoin="bevel"/>
<path d="M1755.18 844.40L1753.90 848.34L1749.76 848.34L1753.11 850.77L1751.83 854.71L1755.18 852.28L1758.53 854.71L1757.25 850.77L1760.60 848.34L1756.46 848.34Z" fill="#ff0000" stroke="#ff0000" stroke-width="1.39" stroke-linejoin="bevel"/>
<path d="M1774.33 860.90L1773.05 864.84L1768.91 864.84L1772.26 867.27L1770.98 871.21L1774.33 868.78L1777.68 871.21L1776.40 867.27L1779.75 864.84L1775.61 864.84Z" fill="#ff0000" stroke="#ff0000" stroke-width="1.39" stroke-linejoin="bevel"/>
<path d="M1792.16 877.10L1790.88 881.04L1786.74 881.04L1790.09 883.47L1788.81 887.41L1792.16 884.98L1795.51 887.41L1794.23 883.47L1797.58 881.04L1793.44 881.04Z" fill="#ff0000" stroke="#ff0000" stroke-width="1.39" stroke-linejoin="bevel"/>
<path d="M1808.84 890.90L1807.56 894.84L1803.42 894.84L1806.77 897.27L1805.49 901.21L1808.84 898.78L1812.19 901.21L1810.91 897.27L1814.26 894.84L1810.12 894.84Z" fill="#ff0000" stroke="#ff0000" stroke-width="1.39" stroke-linejoin="bevel"/>
<path d="M1839.27 921.40L1837.99 925.34L1833.85 925.34L1837.20 927.77L1835.92 931.71L1839.27 929.28L1842.62 931.71L1841.34 927.77L1844.70 925.34L1840.55 925.34Z" fill="#ff0000" stroke="#ff0000" stroke-width="1.39" stroke-linejoin="bevel"/>
<path d="M1866.50 947.80L1865.22 951.74L1861.08 951.74L1864.43 954.17L1863.15 958.11L1866.50 955.68L1869.85 958.11L1868.57 954.17L1871.92 951.74L1867.78 951.74Z" fill="#ff0000" stroke="#ff0000" stroke-width="1.39" stroke-linejoin="bevel"/>
<path d="M1179.33 166.50L1213.84 176.60L1271.50 203.40L1329.16 251.40L1376.27 317.00L1416.11 403.80L1450.61 463.00L1481.05 541.50L1508.27 585.70L1532.90 633.00L1555.39 660.20L1576.07 688.40L1595.22 705.60L1613.05 723.00L1629.73 740.20L1645.39 753.00L1660.16 765.60L1674.13 778.40L1687.39 790.50L1712.02 812.80L1734.50 835.70L1755.18 854.70L1774.33 875.90L1792.16 896.30L1808.84 912.50L1839.27 950.50L1866.50 981.00" fill="none" stroke="#000000" stroke-width="2.3" stroke-linejoin="round" stroke-linecap="square"/>
<path d="M1179.33 172.20L1173.63 160.80L1185.03 160.80Z" fill="#000000" stroke="#000000" stroke-width="1.39" stroke-linejoin="miter"/>
<path d="M1213.84 182.30L1208.14 170.90L1219.54 170.90Z" fill="#000000" stroke="#000000" stroke-width="1.39" stroke-linejoin="miter"/>
<path d="M1271.50 209.10L1265.80 197.70L1277.20 197.70Z" fill="#000000" stroke="#000000" stroke-width="1.39" stroke-linejoin="miter"/>
<path d="M1329.16 257.10L1323.46 245.70L1334.86 245.70Z" fill="#000000" stroke="#000000" stroke-width="1.39" stroke-linejoin="miter"/>
<path d="M1376.27 322.70L1370.57 311.30L1381.97 311.30Z" fill="#000000" stroke="#000000" stroke-width="1.39" stroke-linejoin="miter"/>
<path d="M1416.11 409.50L1410.41 398.10L1421.81 398.10Z" fill="#000000" stroke="#000000" stroke-width="1.39" stroke-linejoin="miter"/>
<path d="M1450.61 468.70L1444.91 457.30L1456.31 457.30Z" fill="#000000" stroke="#000000" stroke-width="1.39" stroke-linejoin="miter"/>
<path d="M1481.05 547.20L1475.35 535.80L1486.75 535.80Z" fill="#000000" stroke="#000000" stroke-width="1.39" stroke-linejoin="miter"/>
<path d="M1508.27 591.40L1502.57 580.00L1513.97 580.00Z" fill="#000000" stroke="#000000" stroke-width="1.39" stroke-linejoin="miter"/>
<path d="M1532.90 638.70L1527.20 627.30L1538.60 627.30Z" fill="#000000" stroke="#000000" stroke-width="1.39" stroke-linejoin="miter"/>
<path d="M1555.39 665.90L1549.69 654.50L1561.09 654.50Z" fill="#000000" stroke="#000000" stroke-width="1.39" stroke-linejoin="miter"/>
<path d="M1576.07 694.10L1570.37 682.70L1581.77 682.70Z" fill="#000000" stroke="#000000" stroke-width="1.39" stroke-linejoin="miter"/>
<path d="M1595.22 711.30L1589.52 699.90L1600.92 699.90Z" fill="#000000" stroke="#000000" stroke-width="1.39" stroke-linejoin="miter"/>
<path d="M1613.05 728.70L1607.35 717.30L1618.75 717.30Z" fill="#000000" stroke="#000000" stroke-width="1.39" stroke-linejoin="miter"/>
<path d="M1629.73 745.90L1624.03 734.50L1635.43 734.50Z" fill="#000000" stroke="#000000" stroke-width="1.39" stroke-linejoin="miter"/>
<path d="M1645.39 758.70L1639.69 747.30L1651.09 747.30Z" fill="#000000" stroke="#000000" stroke-width="1.39" stroke-linejoin="miter"/>
<path d="M1660.16 771.30L1654.46 759.90L1665.86 759.90Z" fill="#000000" stroke="#000000" stroke-width="1.39" stroke-linejoin="miter"/>
<path d="M1674.13 784.10L1668.43 772.70L1679.83 772.70Z" fill="#000000" stroke="#000000" stroke-width="1.39" stroke-linejoin="miter"/>
<path d="M1687.39 796.20L1681.69 784.80L1693.09 784.80Z" fill="#000000" stroke="#000000" stroke-width="1.39" stroke-linejoin="miter"/>
<path d="M1712.02 818.50L1706.32 807.10L1717.72 807.10Z" fill="#000000" stroke="#000000" stroke-width="1.39" stroke-linejoin="miter"/>
<path d="M1734.50 841.40L1728.80 830.00L1740.20 830.00Z" fill="#000000" stroke="#000000" stroke-width="1.39" stroke-linejoin="miter"/>
<path d="M1755.18 860.40L1749.48 849.00L1760.88 849.00Z" fill="#000000" stroke="#000000" stroke-width="1.39" stroke-linejoin="miter"/>
<path d="M1774.33 881.60L1768.63 870.20L1780.03 870.20Z" fill="#000000" stroke="#000000" stroke-width="1.39" stroke-linejoin="miter"/>
<path d="M1792.16 902.00L1786.46 890.60L1797.86 890.60Z" fill="#000000" stroke="#000000" stroke-width="1.39" stroke-linejoin="miter"/>
<path d="M1808.84 918.20L1803.14 906.80L1814.54 906.80Z" fill="#000000" stroke="#000000" stroke-width="1.39" stroke-linejoin="miter"/>
<path d="M1839.27 956.20L1833.57 944.80L1844.97 944.80Z" fill="#000000" stroke="#000000" stroke-width="1.39" stroke-linejoin="miter"/>
<path d="M1866.50 986.70L1860.80 975.30L1872.20 975.30Z" fill="#000000" stroke="#000000" stroke-width="1.39" stroke-linejoin="miter"/>
</g>
<rect x="1144.6" y="165.3" width="755.9000000000001" height="825.0" fill="none" stroke="#000" stroke-width="2.6" stroke-linejoin="miter"/>
<path d="M1144.6 294.2H1158.6M1900.5 294.2H1886.5M1144.6 443.9H1158.6M1900.5 443.9H1886.5M1144.6 593.6H1158.6M1900.5 593.6H1886.5M1144.6 743.3H1158.6M1900.5 743.3H1886.5M1144.6 893.0H1158.6M1900.5 893.0H1886.5M1179.33 990.3V976.3M1213.84 990.3V976.3M1244.27 990.3V976.3M1271.50 990.3V976.3M1450.61 990.3V976.3M1555.39 990.3V976.3M1629.73 990.3V976.3M1687.39 990.3V976.3M1734.50 990.3V976.3M1774.33 990.3V976.3M1808.84 990.3V976.3M1839.27 990.3V976.3M1866.50 990.3V976.3" stroke="#000" stroke-width="2.6" fill="none"/>
<text x="1120.65" y="293.70" font-size="20.2">1</text>
<text transform="translate(1105.37 294.60) scale(1.223 1.25)" font-size="20.2">−</text>
<text x="1069.98" y="304.60" font-size="30.20"  xml:space="preserve">10</text>
<text x="1120.55" y="443.40" font-size="20.2">3</text>
<text transform="translate(1104.50 444.30) scale(1.223 1.25)" font-size="20.2">−</text>
<text x="1069.11" y="454.30" font-size="30.20"  xml:space="preserve">10</text>
<text x="1120.51" y="593.10" font-size="20.2">5</text>
<text transform="translate(1104.50 594.00) scale(1.223 1.25)" font-size="20.2">−</text>
<text x="1069.11" y="604.00" font-size="30.20"  xml:space="preserve">10</text>
<text x="1120.68" y="742.80" font-size="20.2">7</text>
<text transform="translate(1104.90 743.70) scale(1.223 1.25)" font-size="20.2">−</text>
<text x="1069.51" y="753.70" font-size="30.20"  xml:space="preserve">10</text>
<text x="1120.62" y="892.50" font-size="20.2">9</text>
<text transform="translate(1104.75 893.40) scale(1.223 1.25)" font-size="20.2">−</text>
<text x="1069.36" y="903.40" font-size="30.20"  xml:space="preserve">10</text>
<text x="1248.27" y="1023.90" font-size="30.20"  xml:space="preserve">10</text>
<text x="1282.99" y="1012.80" font-size="20.2">0</text>
<text x="1843.74" y="1023.90" font-size="30.20"  xml:space="preserve">10</text>
<text x="1877.71" y="1012.80" font-size="20.2">1</text>
<text transform="translate(1419.49 1058.80) scale(1.0187 1)" font-size="30.00"  xml:space="preserve">Energy ( MeV )</text>
<text transform="translate(1410.65 143.75) scale(1.0478 1)" font-size="30.00"  xml:space="preserve">Integral Spectra</text>
<rect x="1531.6" y="178.3" width="356.90" height="299.00" rx="5" ry="5" fill="#fff" fill-opacity="0.8" stroke="#cccccc" stroke-width="1.3"/>
<path d="M1539.90 197.95H1592.00" stroke="#9400d3" stroke-width="2.3"/>
<circle cx="1565.95" cy="197.95" r="7.12" fill="#9400d3" stroke="#9400d3" stroke-width="1.39"/>
<text transform="translate(1610.89 206.55) scale(1.0755 1)" font-size="26.40"  xml:space="preserve">01 December - 23:00</text>
<path d="M1539.90 234.35H1592.00" stroke="#4b0082" stroke-width="2.3"/>
<path d="M1565.95 227.22L1558.82 241.47L1573.07 241.47Z" fill="#4b0082" stroke="#4b0082" stroke-width="1.39" stroke-linejoin="miter"/>
<text transform="translate(1610.89 242.95) scale(1.0755 1)" font-size="26.40"  xml:space="preserve">02 December - 02:00</text>
<path d="M1539.90 270.75H1592.00" stroke="#0000ff" stroke-width="2.3"/>
<rect x="1558.82" y="263.62" width="14.25" height="14.25" fill="#0000ff" stroke="#0000ff" stroke-width="1.39" stroke-linejoin="miter"/>
<text transform="translate(1610.89 279.35) scale(1.0755 1)" font-size="26.40"  xml:space="preserve">02 December - 05:00</text>
<path d="M1539.90 307.15H1592.00" stroke="#008000" stroke-width="2.3"/>
<path d="M1558.82 307.15H1573.07M1565.95 300.02V314.27" stroke="#008000" stroke-width="1.39" fill="none"/>
<text transform="translate(1610.89 315.75) scale(1.0755 1)" font-size="26.40"  xml:space="preserve">02 December - 08:00</text>
<path d="M1539.90 343.55H1592.00" stroke="#00ff00" stroke-width="2.3"/>
<path d="M1558.82 336.42L1573.07 350.67M1558.82 350.67L1573.07 336.42" stroke="#00ff00" stroke-width="1.39" fill="none"/>
<text transform="translate(1610.89 352.15) scale(1.0755 1)" font-size="26.40"  xml:space="preserve">02 December - 11:00</text>
<path d="M1539.90 379.95H1592.00" stroke="#ffa500" stroke-width="2.3"/>
<path d="M1565.95 369.87L1576.03 379.95L1565.95 390.03L1555.87 379.95Z" fill="#ffa500" stroke="#ffa500" stroke-width="1.39" stroke-linejoin="miter"/>
<text transform="translate(1610.89 388.55) scale(1.0755 1)" font-size="26.40"  xml:space="preserve">02 December - 14:00</text>
<path d="M1539.90 416.35H1592.00" stroke="#ff0000" stroke-width="2.3"/>
<path d="M1565.95 409.22L1564.35 414.15L1559.17 414.15L1563.36 417.19L1561.76 422.11L1565.95 419.07L1570.14 422.11L1568.54 417.19L1572.73 414.15L1567.55 414.15Z" fill="#ff0000" stroke="#ff0000" stroke-width="1.39" stroke-linejoin="bevel"/>
<text transform="translate(1610.89 424.95) scale(1.0755 1)" font-size="26.40"  xml:space="preserve">02 December - 17:00</text>
<path d="M1539.90 452.75H1592.00" stroke="#000000" stroke-width="2.3"/>
<path d="M1565.95 459.88L1558.82 445.62L1573.07 445.62Z" fill="#000000" stroke="#000000" stroke-width="1.39" stroke-linejoin="miter"/>
<text transform="translate(1610.89 461.35) scale(1.0755 1)" font-size="26.40"  xml:space="preserve">02 December - 20:00</text>
<g transform="translate(1055.5 680.4) rotate(-90) scale(1.0960 1) translate(-1.86 0)"><text x="0.00" y="0" font-size="30.0" xml:space="preserve">( cm</text><text transform="translate(58.32 -9.9) scale(1.22 1.25)" font-size="20.2">−</text><text x="72.71" y="-10.8" font-size="20.2" xml:space="preserve">2</text><text x="83.94" y="0" font-size="30.0" xml:space="preserve">s</text><text transform="translate(98.94 -9.9) scale(1.22 1.25)" font-size="20.2">−</text><text x="113.33" y="-10.8" font-size="20.2" xml:space="preserve">1</text><text x="124.57" y="0" font-size="30.0" xml:space="preserve">sr</text><text transform="translate(149.56 -9.9) scale(1.22 1.25)" font-size="20.2">−</text><text x="163.95" y="-10.8" font-size="20.2" xml:space="preserve">1</text><text x="175.18" y="0" font-size="30.0" xml:space="preserve"> )</text></g>
<g transform="translate(1019.1 577.8) rotate(-90)"><text transform="translate(-146.27 0.00) scale(1.0732 1)" font-size="30.00"  xml:space="preserve">Integral electron flux</text></g>
</svg></body></html>
